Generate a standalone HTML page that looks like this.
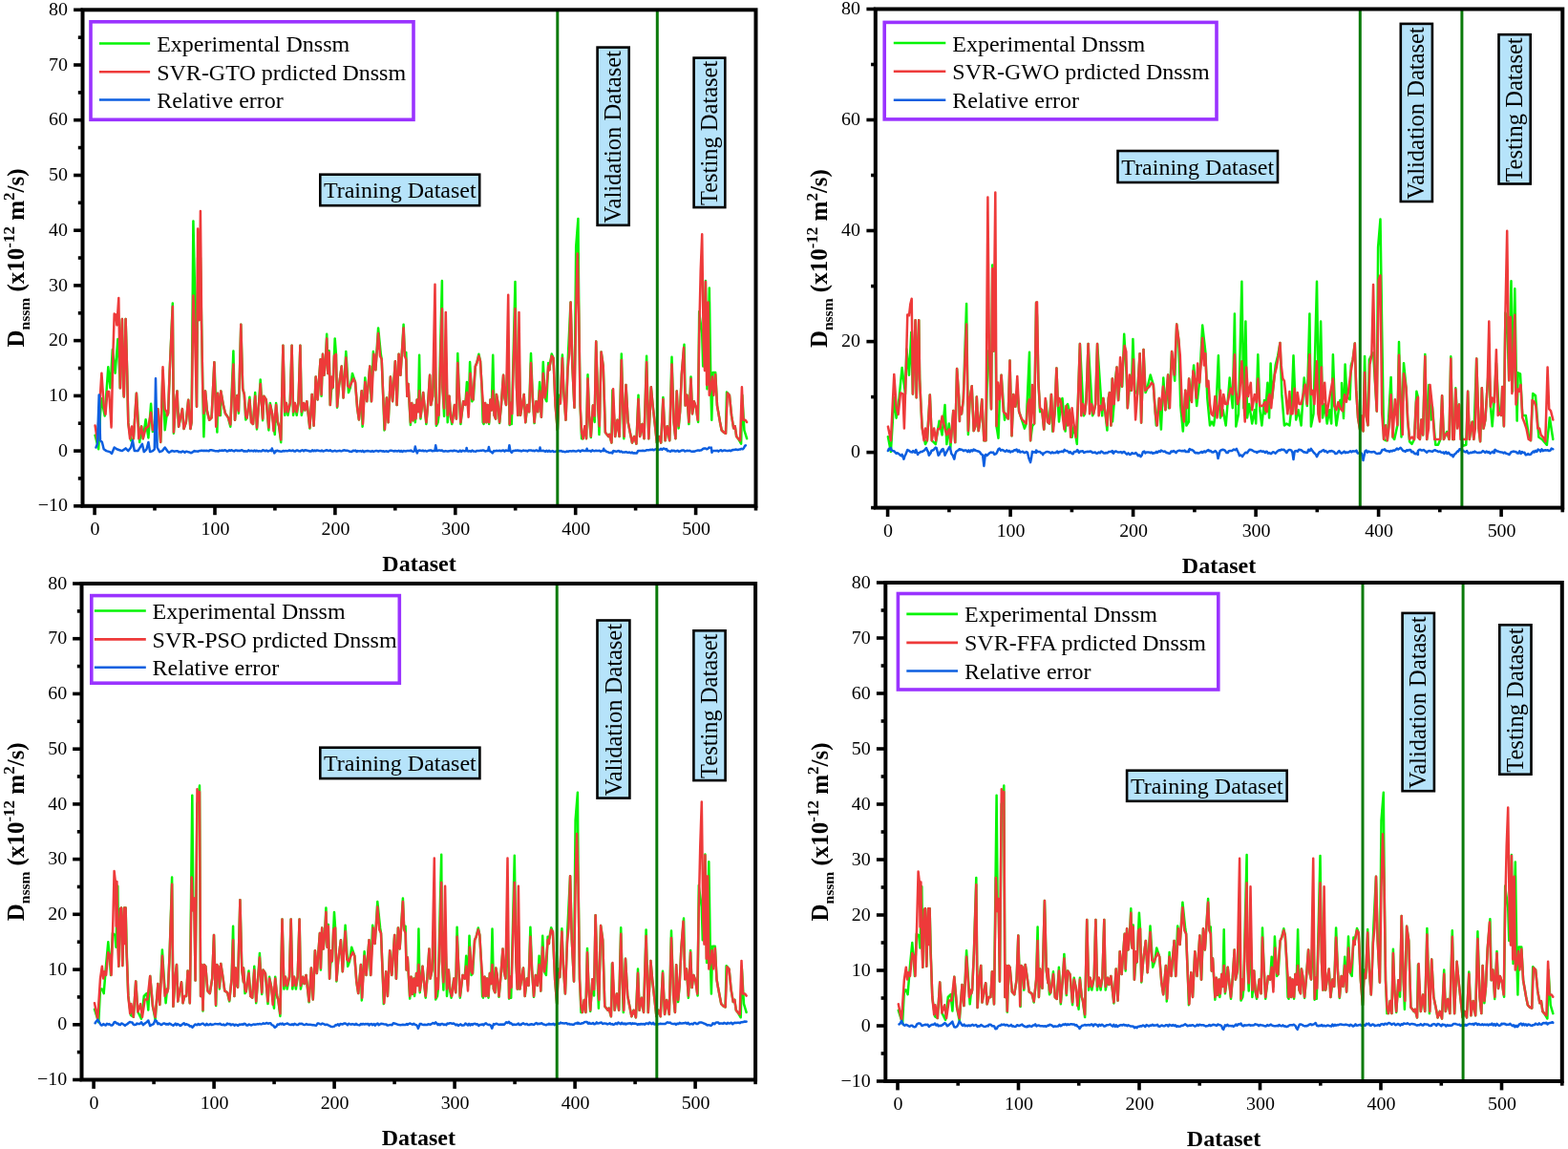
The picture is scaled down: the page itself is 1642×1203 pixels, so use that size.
<!DOCTYPE html>
<html><head><meta charset="utf-8"><title>SVR model comparison</title>
<style>html,body{margin:0;padding:0;background:#fff;}body{width:1642px;height:1203px;overflow:hidden;}svg{display:block;}</style></head><body>
<svg width="1642" height="1203" viewBox="0 0 1642 1203" font-family='"Liberation Serif", "Times New Roman", serif' fill="#000">
<clipPath id="c0"><rect x="86.5" y="10.3" width="705" height="519.5"/></clipPath>
<g clip-path="url(#c0)" fill="none" stroke-linejoin="round" stroke-linecap="round">
<polyline points="99.6,455.7 103.2,470.3 105,433.8 106.4,417.3 109.7,435.5 113.3,384.3 115.5,406.3 117.8,366 120.6,390.7 123.4,355.1 124.3,369.7 125.8,406.3 126.4,369.7 127.9,334.1 129.1,406.3 129.8,415.5 131.6,334.1 133.1,388 134.3,442.9 137.1,461.2 139.8,459.3 142.9,411.8 146.2,463 148.1,446.5 149.8,459.3 152.6,439.2 155.4,458.4 158.1,422.8 159.9,452 163.5,441 165.4,428.3 168.2,463 170.5,388 172.7,450.2 174.9,431.9 175,435.1 176.1,432.8 177.8,386.2 180.8,317.6 181.9,453.7 183.8,423.4 185.5,409.4 187.1,446.7 189,437.4 190.9,428.1 192.5,449 194.8,442.1 197.2,418.8 199.4,449 200.6,442.1 202.4,231.4 204.1,307 206,425.8 207.1,269.8 208.7,335 209.9,269.8 211.1,339.7 212.3,407.1 213.4,457.2 215,409.4 216.9,430.4 219.2,439.8 221.6,437.4 224.4,379.2 227.4,452.5 228.1,411.8 230.9,435.1 231.3,409.4 233.7,423.4 235.9,432.8 239,437.4 241.3,446.7 244.4,367.6 246,439.8 248.3,414.1 249.9,432.8 252.3,339.7 254.2,407.1 255.8,412.9 257.3,439.4 258.6,437.6 261.4,415.7 263.1,442.2 265,444 267.2,411.1 269,449.5 271.4,418.4 272.7,397.4 275.1,440.3 276.3,414.8 278.7,418.4 281.4,450.4 282.9,422 285,433.1 287.8,455 289.1,422 290.9,442.2 292.1,445.8 294.2,463.2 296.4,361.7 298.3,434.8 299.8,422 301.5,434.8 303.8,422 305.6,361.7 307.1,434.8 308.8,422 310.7,434.8 312.5,422 314.4,361.7 315.8,434.8 318,422 319.4,429.4 321.3,420.2 324.4,448.6 326.7,412.9 328.6,445.8 330.7,394.6 332.6,418.4 335.6,376.3 335.8,376.3 336.6,414.8 338,370.8 339.4,392.8 340.9,378.2 342.2,349.8 343.4,391 344.6,367.2 345.8,423.9 347.1,407.4 348.6,405.6 350.7,354.4 351.9,370.8 353.1,426.7 355,403.8 357.7,383.6 359.6,416.5 362.3,368.1 365,411.1 366.9,405.6 369,391 372,400.1 374.2,427.6 375.9,439.4 378.7,409.3 379.6,446.7 382.3,395.5 384.2,420.2 387.3,383.6 388.8,420.2 390.9,368.1 393.3,387.3 396.1,343.4 398.8,370.8 399.7,376.3 401.6,423.9 402.5,450.4 404.9,416.5 406.6,442.2 408.9,394.6 411.1,420.2 413.9,378.2 415.6,423.9 415.7,423.9 417.6,370.8 419.4,392.8 420.9,369 422.6,339.8 423.9,372.7 425.3,369 426.3,414.8 427.5,401.9 429.9,444.9 431.2,422 432.6,440.3 434,423.9 434.8,442.2 436.7,418.4 438,431.2 439.1,371.8 440.4,438.5 441.6,427.6 443.2,411.1 444.9,429.4 446.4,444 448.2,422 450.1,392.8 451.3,423.9 453.2,414.8 455.5,369 456.9,445.8 458.6,442.2 459.5,434.8 462.9,294.1 463.5,405.6 465.1,435.8 466.8,369 468.7,442.2 470.5,414.8 472,436.7 473.2,444 476,423.9 477.9,438.5 479.3,370 480.5,405.6 482.4,444 485.2,420.2 487.3,423.9 488.9,400.1 490.6,431.2 492.1,379.1 494.3,420.2 495.5,418.4 495.7,418.4 497.8,383.6 499.3,380 501.4,370.8 503,378.2 504.5,403.8 505.7,442.2 506.6,444 508.1,422 509.4,442.2 510.6,423.9 512.1,444 513.5,418.4 514.8,429.4 516.2,371.8 517.6,434.8 519.1,438.5 519.9,412.9 521.2,420.2 523.1,443.1 524.9,423.9 527.1,392.8 528.5,416.5 530,423.9 532.2,369 533.7,444.9 534.9,422 535.8,444 539.5,295 541,405.6 542.7,434.8 543.5,369 545,434.8 546.8,423.9 548.7,412.9 550.4,442.2 552.3,423.9 554.1,431.2 556,370 557.7,414.8 559.6,443.1 561.5,420.2 563.3,431.2 565.1,400.1 566.9,436.7 568.8,379.1 570.6,416.5 572.4,420.2 574.2,380 575.5,387.3 575.6,383.5 577.7,370.6 579.5,374.9 581.6,424.6 583.8,450.5 585.3,413.8 586.8,422.4 588.9,371.6 590.3,409.5 592.5,439.8 595,370.6 597.6,316.6 599.4,383.5 601.5,426.8 603.2,258.2 605.4,229 606.2,327.4 607.6,424.6 609.1,459.2 610.6,459.2 612.4,446.2 614,459.2 615.5,392.2 617,435.4 618.8,458.1 620.9,424.6 622.7,441.9 624.2,357.6 626.3,426.8 627.5,454.9 629.6,368.4 631.7,383.5 633.9,452.7 637.2,457 638.2,454.9 640.4,463.5 641.4,408.4 644.2,457 646.5,439.8 648.6,457 650.8,370.6 652.3,426.8 653.3,459.2 655.5,403 655.5,403 657.7,441.9 659.8,452.7 662,463.5 664.1,457 666.4,464.6 668.5,413.8 670.1,457 672.4,444.1 674.5,459.2 677.1,372.7 679.3,459.2 681.8,405.2 683.6,424.6 685.8,444.1 687.9,463.5 690,457 692.2,463.5 694.4,416 696.6,461.3 698.7,446.2 701.2,461.3 703.5,373.8 705.6,441.9 707.4,459.2 708.7,409.5 710.6,448.4 712.1,431.1 713.8,392.2 716.5,360.8 717.7,424.6 719.5,413.8 721.4,444.1 723.5,394.4 725,433.3 726.8,420.3 728.9,426.8 731.1,441.9 732.2,326.3 732.2,327.4 733.7,338.2 735.2,349 736.2,383.5 738.9,293.9 740.5,407.3 742.8,301.5 744.4,407.3 745.3,439.8 746.6,390.1 749.2,390.1 751,424.6 752.5,433.3 754,441.9 755.7,450.5 757.9,452.7 760,453.8 761,410.5 763.9,413.8 766.1,435.4 768.2,448.4 769.7,446.2 771.2,457 773,459.2 776.1,464.6 777.3,413.8 779.4,450.5 782.1,459.2" stroke="#06f406" stroke-width="2.5"/>
<polyline points="99.6,445.6 102,461.2 106.4,390.7 108.7,424.6 110.5,433.8 112.4,410 114.2,410 116.6,447.4 118.4,369.7 119.7,328.6 121.5,329.5 122.4,340.5 124.3,312.1 125.8,406.3 126.4,369.7 127.9,334.1 129.1,406.3 129.8,415.5 131.6,334.1 133.1,388 134.3,442.9 136.1,459.3 138,446.5 139.8,459.3 142.9,411.8 145.3,459.3 148.1,446.5 149.8,459.3 152.6,448.4 155.4,446.5 158.1,431.9 159.9,450.2 162.7,442.9 165.4,428.3 168.2,463 170.5,384.3 172.7,428.3 174.9,431.9 175,435.1 176.1,432.8 177.8,386.2 180.8,321 181.9,452.5 183.8,423.4 185.5,409.4 187.1,446.7 189,437.4 190.9,428.1 192.5,449 194.8,442.1 197.2,418.8 199.4,449 200.6,442.1 202.4,309.4 204.1,351.3 206,425.8 207.1,239.6 208.7,335 209.9,220.9 211.1,339.7 212.3,407.1 213.4,432.8 215,409.4 216.9,430.4 219.2,439.8 221.6,437.4 224.4,379.2 226.2,446.7 228.1,411.8 229.6,435.1 231.3,409.4 233.7,423.4 235.9,432.8 239,437.4 241.3,444.4 244.4,381.6 246,439.8 248.3,414.1 249.9,430.4 252.3,339.7 254.2,407.1 255.8,412.9 257.3,434.8 258.6,437.6 261.4,418.4 263.1,442.2 265,444 267.2,414.8 269,447.7 271.4,418.4 272.7,401.9 275.1,438.5 276.3,414.8 278.7,418.4 281.4,447.7 282.9,423.9 285,433.1 286.5,451.3 289.1,423.9 290.9,442.2 292.1,445.8 294.2,460.5 296.4,361.7 298.3,431.2 299.8,422 301.5,431.2 303.8,422 305.6,361.7 307.1,431.2 308.8,422 310.7,431.2 312.5,422 314.4,361.7 315.8,431.2 318,422 319.4,429.4 321.3,420.2 324.4,447.7 326.7,412.9 328.6,445.8 330.7,394.6 332.6,418.4 335.6,376.3 335.8,376.3 336.6,412.9 338,370.8 339.4,392.8 340.9,378.2 342.2,354.4 343.4,391 344.6,369 345.8,423.9 347.1,394.6 348.6,405.6 350,372.7 351.9,370.8 353.1,425.7 355,403.8 357.7,383.6 359.6,416.5 362.3,374.5 364.1,403.8 366,405.6 368.4,400.1 370.1,396.5 372,400.1 374.2,427.6 375.9,439.4 378.7,409.3 380,444 382.3,400.1 384.2,420.2 387.3,383.6 389.1,420.2 391.5,370.8 393.3,387.3 396.1,348.9 398,372.7 399.7,376.3 401.6,423.9 403,449.5 404.9,416.5 406.6,442.2 408.9,394.6 411.1,420.2 413.9,378.2 415.6,423.9 415.7,420.2 417.6,370.8 419.4,392.8 420.9,369 422.6,343.4 423.9,372.7 425.3,376.3 426.3,414.8 427.5,401.9 429.9,442.2 431.2,422 432.6,440.3 434,423.9 435.5,438.5 436.7,418.4 438,431.2 439.1,409.3 440.4,436.7 441.6,427.6 443.2,411.1 444.9,429.4 446.4,442.2 448.2,422 450.1,392.8 451.3,423.9 453.2,414.8 455.5,297.7 456.9,444 458.1,423.9 459.5,434.8 462.9,323.3 463.5,405.6 465.1,427.6 466.8,327 468.7,434.8 470.5,414.8 472,436.7 473.9,442.2 476,423.9 477.9,438.5 479.3,380 480.5,405.6 482.4,442.2 485.2,420.2 487.3,423.9 488.9,411.1 490.6,436.7 492.5,391 494.3,416.5 495.5,418.4 495.7,411.1 497.8,383.6 499.3,380 501.4,372.7 503,378.2 504.5,403.8 505.7,420.2 506.6,442.2 508.1,422 509.4,442.2 510.6,423.9 512.1,442.2 513.5,418.4 514.8,429.4 516.2,409.3 517.6,434.8 519.1,438.5 519.9,412.9 521.2,420.2 523.1,442.2 524.9,423.9 527.1,392.8 528.5,416.5 530,423.9 532.2,308.7 533.7,444 534.9,422 536.2,433.1 539.5,323.3 541,405.6 542.2,434.8 543.5,327 545,434.8 546.8,423.9 548.7,412.9 550.2,442.2 552.3,423.9 554.1,431.2 556,380 557.7,414.8 559.6,442.2 561.5,420.2 563.3,431.2 565.1,409.3 566.9,436.7 568.8,391 570.6,416.5 572.4,405.6 574.2,383.6 575.5,387.3 575.6,383.5 577.7,372.7 579.5,374.9 581.6,424.6 583.8,450.5 585.3,418.1 586.8,422.4 588.9,374.9 590.3,409.5 592.5,439.8 594.6,385.7 596.1,370.6 597.6,316.6 599.4,383.5 601.5,426.8 603.2,327.4 604.7,265.4 606.2,327.4 607.6,424.6 609.1,452.7 610.6,459.2 612.4,446.2 614,459.2 615.5,396.5 617,435.4 618.8,457 620.9,424.6 622.7,435.4 624.2,357.6 626.3,426.8 627.8,446.2 629.6,368.4 631.7,383.5 633.9,452.7 637.2,457 638.2,454.9 640.4,463.5 642.1,407.3 644.2,457 646.5,439.8 648.6,457 650.8,377.1 652.3,426.8 653.8,457 655.5,403 655.5,403 657.7,441.9 659.8,452.7 662,463.5 664.1,457 666.4,464.6 668.5,418.1 670.1,457 672.4,444.1 674.5,459.2 677.1,379.3 679.3,459.2 681.8,405.2 683.6,424.6 685.8,444.1 687.9,463.5 690,457 692.2,463.5 694.4,418.1 696.6,461.3 698.7,446.2 701.2,461.3 703.5,381.4 705.6,441.9 707.4,459.2 708.7,409.5 710.6,446.2 712.1,431.1 713.8,392.2 716,364.1 717.7,424.6 719.5,413.8 721.4,441.9 723.5,396.5 725,433.3 726.8,420.3 728.9,426.8 730.7,439.8 732.2,349 732.2,349 733.7,284.1 735.2,245.2 736.7,359.8 738,387.9 738.9,294.9 740.1,403 741.6,316.6 742.8,413.8 744.4,407.3 745.9,394.4 747.4,413.8 749.2,392.2 751,424.6 752.5,433.3 754,441.9 755.7,450.5 757.9,452.7 760,453.8 761.8,411.6 763.9,413.8 766.1,435.4 768.2,448.4 769.7,446.2 771.2,457 773,459.2 775.1,461.3 776.9,405.2 778.4,439.8 780.5,439.8 782.1,441.9" stroke="#ee3a3a" stroke-width="2.5"/>
<polyline points="100.5,468.5 102,464.8 103.7,413.6 105,461.2 106.9,463 108.7,470.3 111.4,472.1 115.1,473.1 117,474.9 119.7,468.5 122.4,470.3 125.1,471.2 127.9,472.1 131.6,469.4 134.3,472.1 137.1,468.5 138.9,461.2 140.8,472.1 144.4,472.1 148.9,464.8 150.8,473.1 153.5,470.3 155.4,463 157.1,473.1 159.9,472.1 161.8,470.3 163,396.2 164.6,468.5 167.2,473.1 170,472.1 172.7,468.5 175.9,472.9 177.1,473.8 178.4,473 179.7,472.1 180.9,472.1 182.2,472.7 183.4,472.4 184.7,472.3 186,472.2 187.2,473.2 188.5,473.1 189.7,473.5 191,472.5 192.2,472.8 193.5,473.8 194.8,472.7 196,472.8 197.3,473.3 198.5,473.5 199.8,474.2 201.1,473.8 202.3,472.9 203.6,472.1 204.8,472.5 206.1,472.4 207.4,472.7 208.6,472.1 209.9,472.1 211.1,471.6 212.4,472 213.7,471.8 214.9,472 216.2,471.8 217.4,472.1 218.7,472.3 219.9,471.3 221.2,471.3 222.5,471.5 223.7,471.7 225,472.2 226.2,472.3 227.5,472.2 228.8,472.5 230,471.6 231.3,472 232.5,471.4 233.8,472 235.1,471.3 236.3,471.4 237.6,472.5 238.8,472.3 240.1,471.3 241.3,471.9 242.6,471.2 243.9,472 245.1,472.4 246.4,471.6 247.6,471.4 248.9,472.1 250.2,471.8 251.4,472 252.7,471.2 253.9,471.4 255.2,472.4 256.5,472.2 257.7,472.4 259,472.5 260.2,471.4 261.5,472.3 262.8,471.8 264,472 265.3,472.4 266.5,471.6 267.8,472.4 269,471.7 270.3,472.5 271.6,472.1 272.8,472.4 274.1,472.3 275.3,471.3 276.6,471.6 277.9,472.3 279.1,471.5 280.4,472.4 281.6,472.2 282.9,471.6 284.2,472.1 284.8,469.5 285.4,471.3 286,472.1 286.7,472.5 287.3,474.4 287.9,473.6 288.6,472.1 289.2,472.4 290.4,471.7 291.7,472.3 293,472.4 294.2,472.7 295.5,472.6 296.7,471.9 298,472.4 299.3,471.9 300.5,472.2 301.8,472.1 303,471.4 304.3,472 305.6,471.9 306.8,471.5 308.1,472.4 309.3,472.5 310.6,471.4 311.8,471.6 313.1,472.3 314.4,472.4 315.6,471.6 316.9,471.3 318.1,472.4 319.4,471.3 320.7,471.4 321.9,471.8 323.2,472 324.4,472.5 325.7,472.5 327,471.3 328.2,472.3 329.5,471.6 330.7,472.2 332,471.4 333.2,471.7 334.5,472.1 335.8,472.3 337,471.6 338.3,472.4 339.5,472.2 340.8,471.7 342.1,471.3 343.3,471.7 344.6,472.1 345.8,471.2 347.1,472.2 348.4,472.5 349.6,472.1 350.9,471.8 352.1,472.4 353.4,472.3 354.7,472.1 355.9,471.8 357.2,472.4 358.4,472.1 359.7,471.4 360.9,471.3 362.2,471.8 363.5,471.8 364.7,472 366,472.7 367.2,472.8 368.5,472.9 369.8,471.7 371,472 372.3,471.6 373.5,472.9 374.8,472.1 376.1,472.4 377.3,472.1 378.6,472.7 379.8,471.8 381.1,473.1 382.3,472.4 383.6,472.2 384.9,472 386.1,472.3 387.4,472.4 388.6,472.7 389.9,472.1 391.2,472.8 392.4,472.4 393.7,472 394.9,472.1 396.2,472.7 397.5,472.1 398.7,472 400,472.4 401.2,472.3 402.5,472.7 403.8,472.4 405,472.3 406.3,473 407.5,472.2 408.8,471.7 410,471.8 411.3,472.1 412.6,472.5 413.8,472 415.1,472.2 416.3,472.4 417.6,471.8 418.9,472.8 420.1,471.9 421.4,472.9 422.6,472.1 423.9,472.3 425.2,472.5 426.4,471.9 427.7,472.1 428.9,472 430.2,471.6 431.4,472.4 432.7,472.8 434,472.1 434.8,467.5 435.9,472.1 436.9,474.4 437.7,472.1 439,471.5 440.3,471.8 441.5,472.1 442.8,471.6 444,472.3 445.3,471.8 446.6,472.5 447.8,472.2 449.1,471.7 450.3,471.5 451.6,471.6 452.8,472.3 454.1,472 455.4,472.1 456.2,466.3 457.3,472.1 457.9,472.1 459.1,471.6 460.4,471.6 461.7,471.8 462.9,471.4 464.2,472.4 465.4,472.5 466.7,472.1 468,472.4 469.2,472.5 470.5,472.2 471.7,471.9 473,472.1 474.2,472.3 475.5,471.6 476.8,472.1 478,472.1 479.3,472.7 480.5,472.7 481.8,471.6 483.1,472.7 484.3,471.8 485.6,472 486.8,472.4 488.1,472.1 488.6,468.9 489.4,472.1 490.6,472.6 491.9,472.1 493.1,472.7 494.4,471.6 495.7,472.4 496.9,472.6 498.2,472.7 499.4,471.9 500.7,472.1 501.9,471.9 503.2,471.8 504.5,471.7 505.7,471.4 507,471.8 508.2,472.5 509.5,472.1 511.1,472.1 511.9,468 512.8,472.1 514.5,473.1 515.8,474.4 517.1,472.1 518.3,472.3 519.6,471.8 520.8,472.1 522.1,471.9 523.3,471.7 524.6,472.3 525.9,471.7 527.1,471.5 528.4,472.7 529.6,471.5 530.9,471.8 532.5,472.1 533.4,466.3 534.4,472.1 535.9,473.8 537.2,472.1 538.5,472 539.7,471.6 541,471.7 542.2,471.4 543.5,472.1 544.8,471.8 546,472.5 547.3,471.8 548.5,471.6 549.8,471.9 551,471.8 552.3,472.5 553.6,471.5 554.8,471.4 556.1,471.4 557.3,472 558.6,471.7 559.9,472.3 561.1,471.5 562.4,471.6 563.6,472.3 564.9,472.1 565.5,468.6 566.2,472.1 567.4,472 568.7,471.8 569.9,472.2 571.2,472.8 572.4,471.8 573.7,472.9 575,471.8 576.2,472.8 577.5,472.6 578.7,472 580,472.9 581.3,472.9 582.5,472.4 583.8,472.2 585,472.1 586.3,472.3 587.6,472 588.8,472.7 590.1,472.7 591.3,473.2 592.6,473 593.8,472.5 595.1,472.8 596.4,472.2 597.6,472.3 598.9,472.4 600.1,472 601.4,472.3 602.7,472.6 603.9,472.5 605.2,471.8 606.4,471.7 607.7,472.7 609,471.7 610.2,471.5 611.5,472.1 612.7,472 614,472.1 614.6,469.8 615.2,472.1 616.5,472.1 617.8,471.9 619,472.7 620.3,471.4 621.5,472.1 622.8,472.2 624.1,471.7 625.3,472 626.6,472.1 627.8,471.8 629.1,472.7 630.4,472 631.6,472.1 632.2,469.8 632.9,472.1 634.1,471.8 635.4,473.1 636.7,473.2 637.9,474 639.2,473.9 640.4,473.7 641.3,474.4 642.3,472.1 642.9,472.2 644.2,472.5 645.5,472.8 646.7,472.3 648,472 649.2,473.2 650.5,472.5 651.8,473.6 653,473.5 654.3,473.6 655.5,473.1 656.8,473.7 658.1,473.8 659.3,473.5 660.6,474.3 661.8,473.6 663.1,474.6 664.3,474.2 665.6,474.6 666.9,474.4 668.1,472.1 669.4,472.1 670.6,472.1 671.9,472 673.2,471.7 674.4,472.1 675.7,472 676.9,471.3 678.2,471.2 679.5,471.3 680.7,470.8 682,471 683.2,470.6 684.5,471.3 685.8,470.6 687,470.3 688.3,470.2 689.5,470.9 690.8,470.8 692,469.9 693.3,470.8 694.6,469.6 695.8,469.7 697.1,470.6 698,470.1 699,472.1 699.6,471.8 700.9,472.4 702.1,472.7 703.4,471.6 704.6,472.2 705.9,471.7 707.2,472.6 708.4,472.2 709.7,471.8 710.9,472.8 712.2,472.5 713.4,471.8 714.7,471.5 716,471.4 717.2,472.6 718.5,472.1 719.7,471.7 721,472.1 722.3,471.8 723.5,472.5 724.8,472.7 726,472.6 727.3,472.7 728.6,472.1 729.8,471.8 731.1,471.4 732.3,471.8 733.6,471.4 734.8,471.2 736.1,470 737.4,469.5 738.6,469.4 739.9,470.2 741.1,470 742.4,468.5 743.7,468.9 744.8,468.6 745.5,473.8 746.2,472.1 747.4,472.1 748.7,472 750,472.1 751.2,471.8 752.5,472.6 753.7,471.6 755,471.3 756.2,472.3 757.5,471.8 758.8,471.4 760,471.8 761.3,472.1 762.5,472.1 763.8,471.6 765.1,472.2 766.3,471.5 767.6,471 768.8,471 770.1,470.6 771.4,470.8 772.6,471 773.9,470.6 775.1,470.6 776.4,469.8 777.7,470.3 778.9,469.1 780.2,466.7 780.9,466.3" stroke="#0d5fe0" stroke-width="2.5"/>
</g>
<line x1="583.8" y1="10.3" x2="583.8" y2="529.8" stroke="#0a7a0a" stroke-width="3"/>
<line x1="688.3" y1="10.3" x2="688.3" y2="529.8" stroke="#0a7a0a" stroke-width="3"/>
<rect x="86.5" y="10.3" width="705" height="519.5" fill="none" stroke="#000" stroke-width="4.0"/>
<line x1="77.1" y1="529.8" x2="86.5" y2="529.8" stroke="#000" stroke-width="3.6"/>
<text transform="translate(70.9 535.4) scale(1.05 1)" text-anchor="end" font-size="19">−10</text>
<line x1="81.8" y1="500.9" x2="86.5" y2="500.9" stroke="#000" stroke-width="3.6"/>
<line x1="77.1" y1="472.1" x2="86.5" y2="472.1" stroke="#000" stroke-width="3.6"/>
<text transform="translate(70.9 477.7) scale(1.05 1)" text-anchor="end" font-size="19">0</text>
<line x1="81.8" y1="443.2" x2="86.5" y2="443.2" stroke="#000" stroke-width="3.6"/>
<line x1="77.1" y1="414.4" x2="86.5" y2="414.4" stroke="#000" stroke-width="3.6"/>
<text transform="translate(70.9 420) scale(1.05 1)" text-anchor="end" font-size="19">10</text>
<line x1="81.8" y1="385.5" x2="86.5" y2="385.5" stroke="#000" stroke-width="3.6"/>
<line x1="77.1" y1="356.6" x2="86.5" y2="356.6" stroke="#000" stroke-width="3.6"/>
<text transform="translate(70.9 362.2) scale(1.05 1)" text-anchor="end" font-size="19">20</text>
<line x1="81.8" y1="327.8" x2="86.5" y2="327.8" stroke="#000" stroke-width="3.6"/>
<line x1="77.1" y1="298.9" x2="86.5" y2="298.9" stroke="#000" stroke-width="3.6"/>
<text transform="translate(70.9 304.5) scale(1.05 1)" text-anchor="end" font-size="19">30</text>
<line x1="81.8" y1="270" x2="86.5" y2="270" stroke="#000" stroke-width="3.6"/>
<line x1="77.1" y1="241.2" x2="86.5" y2="241.2" stroke="#000" stroke-width="3.6"/>
<text transform="translate(70.9 246.8) scale(1.05 1)" text-anchor="end" font-size="19">40</text>
<line x1="81.8" y1="212.3" x2="86.5" y2="212.3" stroke="#000" stroke-width="3.6"/>
<line x1="77.1" y1="183.5" x2="86.5" y2="183.5" stroke="#000" stroke-width="3.6"/>
<text transform="translate(70.9 189.1) scale(1.05 1)" text-anchor="end" font-size="19">50</text>
<line x1="81.8" y1="154.6" x2="86.5" y2="154.6" stroke="#000" stroke-width="3.6"/>
<line x1="77.1" y1="125.7" x2="86.5" y2="125.7" stroke="#000" stroke-width="3.6"/>
<text transform="translate(70.9 131.3) scale(1.05 1)" text-anchor="end" font-size="19">60</text>
<line x1="81.8" y1="96.9" x2="86.5" y2="96.9" stroke="#000" stroke-width="3.6"/>
<line x1="77.1" y1="68" x2="86.5" y2="68" stroke="#000" stroke-width="3.6"/>
<text transform="translate(70.9 73.6) scale(1.05 1)" text-anchor="end" font-size="19">70</text>
<line x1="81.8" y1="39.2" x2="86.5" y2="39.2" stroke="#000" stroke-width="3.6"/>
<line x1="77.1" y1="10.3" x2="86.5" y2="10.3" stroke="#000" stroke-width="3.6"/>
<text transform="translate(70.9 15.9) scale(1.05 1)" text-anchor="end" font-size="19">80</text>
<line x1="99.1" y1="529.8" x2="99.1" y2="539.2" stroke="#000" stroke-width="3.6"/>
<text transform="translate(99.6 559.8) scale(1.05 1)" text-anchor="middle" font-size="19">0</text>
<line x1="162" y1="529.8" x2="162" y2="534.5" stroke="#000" stroke-width="3.6"/>
<line x1="225" y1="529.8" x2="225" y2="539.2" stroke="#000" stroke-width="3.6"/>
<text transform="translate(225.5 559.8) scale(1.05 1)" text-anchor="middle" font-size="19">100</text>
<line x1="287.9" y1="529.8" x2="287.9" y2="534.5" stroke="#000" stroke-width="3.6"/>
<line x1="350.9" y1="529.8" x2="350.9" y2="539.2" stroke="#000" stroke-width="3.6"/>
<text transform="translate(351.4 559.8) scale(1.05 1)" text-anchor="middle" font-size="19">200</text>
<line x1="413.8" y1="529.8" x2="413.8" y2="534.5" stroke="#000" stroke-width="3.6"/>
<line x1="476.8" y1="529.8" x2="476.8" y2="539.2" stroke="#000" stroke-width="3.6"/>
<text transform="translate(477.3 559.8) scale(1.05 1)" text-anchor="middle" font-size="19">300</text>
<line x1="539.7" y1="529.8" x2="539.7" y2="534.5" stroke="#000" stroke-width="3.6"/>
<line x1="602.7" y1="529.8" x2="602.7" y2="539.2" stroke="#000" stroke-width="3.6"/>
<text transform="translate(603.2 559.8) scale(1.05 1)" text-anchor="middle" font-size="19">400</text>
<line x1="665.6" y1="529.8" x2="665.6" y2="534.5" stroke="#000" stroke-width="3.6"/>
<line x1="728.6" y1="529.8" x2="728.6" y2="539.2" stroke="#000" stroke-width="3.6"/>
<text transform="translate(729.1 559.8) scale(1.05 1)" text-anchor="middle" font-size="19">500</text>
<line x1="791.5" y1="529.8" x2="791.5" y2="534.5" stroke="#000" stroke-width="3.6"/>
<text x="439" y="598" text-anchor="middle" font-size="24" font-weight="bold">Dataset</text>
<text transform="translate(24.7 270) rotate(-90)" text-anchor="middle" font-size="25" font-weight="bold">D<tspan font-size="15.5" dy="6.5">nssm</tspan><tspan dy="-6.5"> (x10</tspan><tspan font-size="17" dy="-10">-12</tspan><tspan dy="10"> m</tspan><tspan font-size="17" dy="-10">2</tspan><tspan dy="10">/s)</tspan></text>
<rect x="95" y="22.8" width="338" height="102.5" fill="#fff" stroke="#9a33ff" stroke-width="3.6"/>
<line x1="103.9" y1="45.5" x2="157.1" y2="45.5" stroke="#06f406" stroke-width="2.6"/>
<text x="164.2" y="54" font-size="24">Experimental Dnssm</text>
<line x1="103.9" y1="75.3" x2="157.1" y2="75.3" stroke="#ee3a3a" stroke-width="2.6"/>
<text x="164.2" y="83.8" font-size="24">SVR-GTO prdicted Dnssm</text>
<line x1="103.9" y1="104.5" x2="157.1" y2="104.5" stroke="#0d5fe0" stroke-width="2.6"/>
<text x="164.2" y="113" font-size="24">Relative error</text>
<rect x="335.3" y="182.7" width="166.9" height="32.5" fill="#b6e3fa" stroke="#000" stroke-width="2.6"/>
<text x="418.8" y="207" text-anchor="middle" font-size="24">Training Dataset</text>
<rect x="625.6" y="49.6" width="33.1" height="186.2" fill="#b6e3fa" stroke="#000" stroke-width="2.6"/>
<text transform="translate(650.2 143.3) rotate(-90)" text-anchor="middle" font-size="24.5">Validation Dataset</text>
<rect x="726.6" y="60.6" width="32.7" height="156.5" fill="#b6e3fa" stroke="#000" stroke-width="2.6"/>
<text transform="translate(750.8 139.4) rotate(-90)" text-anchor="middle" font-size="24.5">Testing Dataset</text>
<clipPath id="c1"><rect x="916.8" y="9.5" width="719.5" height="522.1"/></clipPath>
<g clip-path="url(#c1)" fill="none" stroke-linejoin="round" stroke-linecap="round">
<polyline points="929.9,457.3 932.9,473 936.3,416.3 938.6,437.7 941.6,416.3 944.6,385 948,412.4 949.4,365.5 952,392.8 954.3,347.9 955.9,412.4 957.3,369.4 958.6,335.2 959.7,416.3 961,369.4 962.2,335.2 963.1,396.7 964.1,418.2 965.6,447.5 969,465.1 970.9,461.2 973.8,413.4 975.8,461.2 979.8,465.1 982.1,449.5 983.6,440.7 986.6,455.4 989.5,424.1 991.4,465.1 993.8,443.6 995.3,469 998.3,430 1000.2,463.1 1002.1,386 1004.2,416.3 1004.9,441 1005.1,426 1007,433.4 1008.8,418.2 1012.1,318.1 1013.9,455 1015.6,418.2 1017.7,404.2 1019.7,451.1 1021.5,446.1 1022.8,415.6 1024.7,451.1 1026.5,438.4 1028.3,418.2 1030.4,461.3 1032.4,461.3 1034.4,367.5 1035.9,367.5 1038,428.3 1039.2,277.5 1040.5,367.5 1042.3,316.8 1043.5,446.1 1045.5,458.7 1046.8,418.2 1048.6,392.8 1052,439.7 1053.1,433.4 1055.7,438.4 1057.5,377.6 1059.5,456.2 1061.3,413.1 1063.3,425.8 1065.8,413.1 1067.1,430.8 1069.7,438.4 1072.9,448.6 1074.7,443.5 1078,368.8 1079.1,461.3 1081,446.1 1083.1,443.5 1085.1,316.8 1086,331.5 1087.4,400.7 1089.1,431.2 1091.2,429.2 1093.2,449.6 1095.1,419.1 1097.6,442.4 1098.9,443.5 1100.9,412.9 1102.3,451.6 1104.4,433.3 1106.4,385.4 1107.9,425.1 1109,441.5 1111.1,421.1 1112.5,417 1115.6,451.6 1116.6,425.1 1118,423.1 1119.7,429.2 1122.6,457.8 1124.7,445.5 1127.8,464.9 1128.8,423.1 1130.9,360 1134.8,435.3 1135.9,433.3 1137.5,419.1 1139.6,360 1144.1,435.3 1145.1,433.3 1147.2,423.1 1149.1,360 1154.2,435.3 1155.3,417 1157.3,431.2 1159.4,450.6 1160.8,417 1161.9,410.9 1163.4,445.5 1164.8,396.6 1165,441.5 1166.6,423.1 1168.1,396.6 1169.5,384.4 1171.1,419.1 1173.1,396.6 1175.2,404.8 1177.2,349.8 1179.7,392.5 1180.8,427.2 1182.4,408.8 1184.9,408.8 1186.4,354.9 1188.4,408.8 1191.1,412.9 1193.6,370.2 1195.1,442.4 1197.5,366.1 1199.6,410.9 1201.3,406.8 1204.7,392.5 1207.8,402.8 1210.8,445.5 1213.9,417 1215.9,449.6 1218.3,395.6 1220.4,429.2 1223.1,392.5 1224,427.2 1227.1,368.1 1230.2,398.7 1232.2,339.6 1234.3,355.9 1236.3,425.1 1238.8,451.6 1241.3,408.8 1242.4,445.5 1244.9,441.5 1245.1,396.6 1247,419.1 1250.1,382.4 1253.2,425.1 1256.2,398.7 1259.2,340.6 1262.3,368.1 1264.3,417 1267,445.5 1269,441.5 1271,445.5 1273.5,427.2 1275.9,372.2 1278,437.4 1280.7,429.2 1283.7,445.5 1287.7,395.6 1290.8,427.2 1292.9,328.4 1294.3,446.6 1297,433.3 1300.4,294.8 1302.4,427.2 1304.4,336.6 1306.1,437.4 1308.2,423.1 1311.2,443.5 1313.8,429.2 1315.2,443.5 1317.3,371.2 1319.3,429.2 1321.4,445.5 1324,419.1 1325,433.3 1327.4,400.7 1329.1,437.4 1330.6,380.4 1332.2,417 1335.7,382.4 1338.2,372.2 1340.5,359 1342.3,412.9 1344.9,445.5 1347.3,443.5 1350.4,445.5 1352.5,427.2 1354.5,372.2 1357.2,439.4 1359.7,429.2 1362.6,445.5 1365.7,395.6 1368.8,425.1 1371.4,328.4 1372.9,446.6 1375.5,433.3 1379,294.8 1381,429.2 1383.1,336.6 1385.1,437.4 1387.2,423.1 1389.7,443.5 1392.2,429.2 1394.2,443.5 1395.9,371.2 1398,429.2 1399.4,445.5 1403.4,419.1 1405,429.2 1405,401.1 1407,437.9 1408.6,381.5 1410.4,415.8 1413.6,418.2 1414.8,382.7 1416.7,376.5 1418.8,359.4 1420.2,408.4 1422.1,437.9 1424.2,450.2 1425.8,435.4 1427.5,451.4 1429.1,372.9 1430.7,435.4 1432.5,445.2 1433.9,376.5 1436.4,371.7 1438.1,369.2 1441.8,430.5 1443.1,258.8 1445.5,229.4 1447.2,347.1 1449.1,460 1451.2,461.2 1452.8,461.2 1456.6,394.9 1458.5,457.5 1460.2,460 1463.4,445.2 1465,358.1 1467.5,457.5 1470,380.2 1472.5,406 1474.2,440.3 1476.1,462.4 1478.5,464.8 1481,460 1483.4,409.7 1484.9,415.8 1484.9,448.6 1486.9,460 1488.4,439.5 1490.1,455.4 1492.3,370.9 1494.2,460 1496.4,402.9 1498.7,439.5 1499.9,425.7 1503.3,465.8 1506,465.8 1508.3,460 1510.1,414.3 1511.9,460 1515.1,452 1517.5,460 1519.3,373.2 1521.2,460 1522.7,460 1524.3,406.3 1526.6,446.3 1528,423.5 1531.8,466.9 1535.3,465.8 1537.1,409.7 1538.8,460 1540.3,448.6 1541.7,441.7 1543.3,460 1546.2,375.4 1548.5,448.6 1550.1,462.3 1551.8,406.3 1553.6,448.6 1555.4,439.5 1557.7,402.9 1559.3,380 1560.9,425.7 1562.7,446.3 1565,414.3 1566.9,380 1569.1,421.1 1570.3,432.6 1571.9,434.9 1573.2,405.1 1574.9,446.3 1576.4,327.5 1578.2,334.3 1580.2,398.3 1582.5,294.3 1584,409.7 1586.3,302.3 1588.6,440.6 1589.7,390.3 1592,391.4 1594.3,434.9 1597.8,434.9 1601.1,457.8 1603,461.2 1605.2,412 1608,414.3 1611.4,457.8 1614.8,460 1619.9,465.8 1622.8,437.2 1626.3,460" stroke="#06f406" stroke-width="2.5"/>
<polyline points="929.9,446.6 932.9,461.2 936.3,391.9 938.6,426 940.6,433.9 943,411.4 945.5,412.4 946.9,448.5 948.8,387 950.3,329.4 952,330.3 953.3,318.6 954.7,312.7 955.9,412.4 957.3,369.4 958.6,335.2 959.7,416.3 961,369.4 962.2,335.2 963.1,396.7 964.1,418.2 965.6,447.5 967.6,461.2 969,448.5 970.9,461.2 973.8,413.4 975.8,461.2 978.1,448.5 980.1,461.2 982.1,449.5 984.6,448.5 986.6,435.8 989.5,448.5 991.4,455.4 993.8,449.5 995.7,463.1 998.3,430 1000.2,463.1 1002.1,386 1004.2,416.3 1004.9,441 1005.1,426 1007,433.4 1008.8,418.2 1012.1,339.6 1013.9,451.1 1015.6,418.2 1017.7,404.2 1019.7,451.1 1021.5,446.1 1022.8,415.6 1024.7,451.1 1026.5,438.4 1028.3,418.2 1030.4,461.3 1032.4,461.3 1034.4,206.5 1035.9,367.5 1038,428.3 1039.2,281.3 1040.5,367.5 1042.3,201.4 1043.5,446.1 1045,400.4 1046.8,418.2 1048.6,392.8 1050.7,430.8 1053.1,433.4 1055.7,438.4 1057.5,377.6 1059.5,456.2 1061.3,413.1 1063.3,425.8 1065.3,394.1 1067.1,430.8 1069.7,438.4 1072.1,441 1074.7,443.5 1076.5,423.2 1078,418.2 1079.1,461.3 1081,403 1083.1,443.5 1085.1,316.8 1086,316.2 1087.4,400.7 1089.1,427.2 1091.2,429.2 1093.2,449.6 1094.7,417 1096.8,441.5 1098.9,443.5 1100.9,412.9 1103,451.6 1104.4,433.3 1106.4,385.4 1107.9,425.1 1109.4,417 1111.1,421.1 1112.5,433.3 1114.5,449.6 1116.6,425.1 1118,445.5 1119.7,429.2 1121.2,457.8 1122.6,427.2 1124.7,445.5 1126.7,457.8 1128.8,423.1 1130.9,360 1132.3,435.3 1133.9,423.1 1135.9,433.3 1137.5,419.1 1139.6,360 1141,433.3 1143.1,423.1 1145.1,433.3 1147.2,423.1 1149.1,360 1150.6,435.3 1152.2,425.1 1153.8,429.2 1155.3,417 1157.3,431.2 1159.4,445.5 1160.8,417 1161.9,410.9 1163.4,445.5 1164.8,396.6 1165,396.6 1166.6,423.1 1168.1,400.7 1169.5,384.4 1171.1,419.1 1173.1,374.2 1174.8,404.8 1176.2,376.2 1177.6,362 1179.3,368.1 1180.8,427.2 1182.9,392.5 1184.9,408.8 1187,376.2 1189.1,439.4 1191.1,412.9 1193.6,370.2 1195.1,442.4 1197.5,366.1 1199.2,408.8 1201.3,406.8 1203.7,404.8 1205.8,400.7 1207.8,402.8 1209.9,433.3 1211.8,445.5 1213.9,417 1215.5,429.2 1218,404.8 1220.4,429.2 1223.1,392.5 1225,427.2 1227.1,368.1 1229.8,392.5 1232.2,339.6 1234.3,355.9 1235.8,372.2 1237.9,429.2 1239.9,441.5 1241.3,408.8 1243.4,427.2 1244.9,398.7 1245.1,396.6 1246.6,412.9 1248,421.1 1249.4,388.5 1251.1,396.6 1252.8,417 1254.2,380.4 1256.2,400.7 1257.7,380.4 1259.2,353.9 1260.9,382.4 1262.3,370.2 1263.7,404.8 1265.4,398.7 1267,423.1 1268.5,433.3 1270.5,435.3 1272.4,414.9 1274.5,437.4 1276.5,423.1 1278,408.8 1279.6,435.3 1281.3,412.9 1283.2,423.1 1285.3,423.1 1287.3,412.9 1288.8,406.8 1290.8,412.9 1292.9,371.2 1294.3,408.8 1296,423.1 1298,414.9 1300.4,378.3 1302,412.9 1303.7,441.5 1305.1,384.4 1307.1,414.9 1309.8,400.7 1311.2,429.2 1313.8,412.9 1315.9,421.1 1317.3,396.6 1319.3,425.1 1322,425.1 1325,421.1 1325,429.2 1326.7,431.2 1328.1,417 1329.5,412.9 1331.2,427.2 1332.7,410.9 1334.8,392.5 1336.8,384.4 1338.9,372.2 1340.5,359 1341.7,382.4 1343.4,396.6 1344.9,398.7 1346.4,412.9 1348.4,433.3 1350.4,409.9 1351.8,433.3 1353.5,433.3 1355.6,406.8 1357.2,433.3 1358.7,410.9 1360.6,423.1 1362.6,423.1 1364.7,412.9 1366.7,402.8 1368.8,423.1 1371.4,371.2 1372.9,412.9 1374.8,408.8 1376.4,423.1 1379,378.3 1380.4,433.3 1382,441.5 1383.7,384.4 1385.1,423.1 1387.2,400.7 1389.1,435.3 1391.2,423.1 1393.2,410.9 1395.9,396.6 1397.3,425.1 1399.4,429.2 1401.4,421.1 1403.4,427.2 1405,429.2 1405,428.1 1406.2,430.5 1408,413.3 1409.9,420.7 1411.8,410.9 1414.3,391.3 1416.7,376.5 1418.8,359.4 1420.2,408.4 1422.1,437.9 1424.2,450.2 1425.8,435.4 1427.5,451.4 1429.1,390.1 1430.7,435.4 1432.5,445.2 1434.5,381.5 1436.4,371.7 1438.1,298.1 1439.9,396.2 1441.8,430.5 1443.7,293.2 1445.5,288.3 1447.2,433 1449.1,460 1451.2,445.2 1452.8,461.2 1454.5,447.7 1456.6,413.3 1458.5,457.5 1460.9,418.2 1463.4,445.2 1465,371.7 1466.8,420.7 1468.8,455 1470,391.3 1472.5,406 1474.2,440.3 1476.1,460 1478.5,457.5 1481,460 1483,420.7 1484.9,415.8 1484.9,457.8 1486.9,460 1488.4,439.5 1490.1,455.4 1492.3,373.2 1494.2,460 1496,448.6 1497.5,402.9 1499.9,425.7 1502.2,460 1504.5,460 1506.7,460 1508.3,460 1510.1,414.3 1511.9,460 1513.6,455.4 1515.9,453.2 1517.5,460 1519.3,375.4 1521.2,460 1522.7,460 1524.3,407.5 1526.2,448.6 1528,423.5 1529.5,460 1531.8,460 1534.2,460 1535.7,460 1537.1,409.7 1538.8,460 1540.3,448.6 1541.7,441.7 1543.3,460 1544.9,448.6 1546.2,375.4 1548.5,448.6 1550.1,462.3 1551.8,406.3 1553.6,448.6 1555.4,439.5 1557.7,402.9 1559.3,336.6 1560.9,425.7 1562.7,416.6 1565,421.1 1566.9,366.3 1568.7,434.9 1570.3,432.6 1571.9,434.9 1573.2,405.1 1574.9,446.3 1576.4,329.7 1578.2,241.7 1580.2,398.3 1581.7,332 1583.4,412 1585.2,366.3 1586.3,329.7 1587.5,423.5 1589.3,407.5 1590.8,409.7 1592.5,402.9 1594.3,437.2 1596.1,441.7 1598.4,448.6 1600.7,460 1603,461.2 1604.6,418.9 1606.9,421.1 1608.4,425.7 1610.3,448.6 1612.1,448.6 1613.7,455.4 1616,457.8 1618.3,462.3 1620.6,384.6 1622.2,428.1 1624,430.3 1626.3,439.5" stroke="#ee3a3a" stroke-width="2.5"/>
<polyline points="929.9,472 930.9,469.8 932.2,470.8 932.9,469 933.5,471 934.8,472 936.1,472.2 937.7,473.9 938.6,474.7 939.9,474.3 940.6,474.9 941.2,475.1 943,476.8 943.8,477.2 944.6,475.9 946.5,480.7 947.6,477.2 948.4,475.9 950.3,471 951.5,471.6 953.3,473 954.1,473.3 955.3,473.5 956.2,472 958.2,473.9 959.2,471 960.5,474.5 961.1,475.9 961.8,474.2 963.1,473.9 964.1,473 965.6,473.1 967,472 968.2,471.3 970,469 970.8,471.1 972,473.4 972.8,476.8 974.6,474.2 975.4,472 977.7,471 978.5,469.9 979.8,468.5 980.7,469 982.6,476.8 983.6,475.9 984.9,472.5 985.5,473 986.2,470.8 987.5,470 988.8,473.6 989.5,476.8 991.4,473 992.6,470.9 994.4,468 995.2,469.7 996.3,474.9 997.7,476.8 999.3,480.7 1000.3,475.6 1001.2,473 1002.9,471.8 1004.2,470.6 1004.9,470.2 1005.1,471 1006.7,470.6 1008,471.3 1009.3,472.1 1010.1,471.4 1011.9,471.4 1013.2,473.1 1014.4,471.4 1015.1,472.7 1015.7,473.1 1017,471.2 1018.3,472.4 1019.6,470.5 1020.2,471.4 1020.9,471.1 1022.2,471.9 1023.4,472.2 1025.2,472.7 1026,473.2 1027.3,475.2 1029.1,476.5 1030.4,487.9 1031.7,476.5 1032.4,475.9 1033.7,476.9 1035.4,475.2 1036.3,474.3 1037.6,473.5 1039.2,473.9 1040.1,473.6 1041.4,475.8 1043,475.2 1044,473.8 1045.5,470.2 1046.6,469.5 1047.9,471.7 1049.1,471 1050.7,471.4 1051.7,472.4 1053,472.7 1054.3,471.3 1055.7,472.7 1056.8,471.9 1058.1,473.5 1059.4,472.4 1060.7,472.7 1062,471.2 1063.3,471.4 1064.6,470.5 1065.8,473.1 1067.1,471.4 1068.4,473.5 1069.7,473.1 1071,472.7 1072.3,473.9 1073.5,474.1 1074.8,473.1 1076,473.9 1077.4,479.7 1079.1,484.1 1080,479.6 1081,472.7 1082.5,473.6 1083.8,473.3 1085,474 1085.1,471.4 1086.4,473 1087.7,472.9 1089.1,473 1090.3,474.3 1091.5,474.7 1092.2,476.1 1092.8,474.7 1094.1,474 1095.4,473.2 1096.7,472.9 1098,473.2 1099.2,473.6 1100.5,474.4 1101.8,473.4 1103.1,474.3 1104.4,474 1105.7,473.9 1107,472.5 1108.2,474.2 1109.4,473 1110.8,473.1 1112.1,472.5 1113.4,473.2 1114.7,470.9 1115.6,472 1117.2,472 1118.5,472.8 1119.8,474.1 1120.7,473 1122.6,475 1123.7,475.2 1124.7,473 1126.2,473 1127.5,472.4 1128.2,471 1128.8,471.8 1129.8,474 1131.4,472.5 1132.6,472.5 1133.9,472.3 1135.2,474 1136.5,473.3 1137.9,473 1139.1,472.8 1140.4,472.9 1141.6,472.5 1142.9,472.8 1144.2,474.1 1145.5,473.8 1146.1,473.6 1146.8,473.5 1148.1,474.7 1149.4,474.5 1150.6,473.5 1151.9,474.2 1153.2,472.5 1154.2,473 1155.8,474.4 1157.1,474.5 1158.3,474 1159.6,474.3 1160.9,473.1 1162.2,472.9 1163.5,472.8 1164.8,472 1165,474 1166.1,474.6 1167.3,472.8 1168.6,472.5 1169.9,473.1 1171.1,473.6 1172.5,473.4 1173.8,473.1 1175,474.3 1176.3,473.3 1177.2,473 1178.9,474.7 1180.2,475.6 1181.5,474.4 1183.3,476.1 1184,475.8 1185.3,474.3 1186.6,474.7 1187.9,475 1189.4,474 1190.5,475.2 1191.8,477.1 1193,476.4 1194.6,478.1 1195.6,476.8 1196.9,473.2 1197.5,473 1198.2,472.6 1199.5,474.4 1200.7,473.4 1202,473.5 1203.3,473.5 1204.6,474.2 1205.8,473.6 1207.2,474.7 1208.5,474.3 1209.7,474.2 1211,472.8 1211.8,474 1213.6,472.3 1214.9,473 1215.9,471.6 1217.4,472.4 1218.7,472.8 1220,472.5 1221.3,473.9 1222.1,474 1223.9,474.7 1225.2,474.7 1226.4,472.5 1227.7,473 1229,472 1230.2,473 1231.6,474.1 1232.9,472.3 1234.2,471.8 1235.4,471.7 1236.7,472.2 1238.3,472 1239.3,472.3 1240.6,471.6 1241.9,473.1 1243.1,472.7 1244.9,473 1245.1,471 1245.7,470.1 1247,470.9 1248.3,471.1 1249.6,471.8 1250.9,473.6 1252.1,474.3 1253.2,474 1254.7,474.6 1256,474.2 1257.3,473.5 1258.6,473 1259.2,474 1259.8,473.5 1261.1,472.3 1262.4,473.5 1263.7,472.1 1265.4,471 1266.3,472.2 1267.6,471.9 1268.8,473.2 1270.1,473.6 1271.5,473 1272.7,472.1 1274.5,474 1275.5,480.1 1276.5,476.5 1277.6,472 1279.1,471.2 1280.4,470.8 1281.7,471 1283,471.9 1284.3,473.9 1285.7,474 1286.8,472.3 1288.1,472.1 1289.8,472 1290.7,471.6 1292,470.6 1293.3,471.2 1294.9,469.9 1295.8,472.1 1297.1,474.5 1298,477.1 1299.7,476.4 1301,478.1 1302.2,476.2 1304,474 1304.8,473.8 1306.1,474.2 1307.4,472.1 1308.7,470.7 1310.2,471 1311.2,471.4 1312.5,472.2 1313.8,473 1315.1,472.9 1316.3,474 1317.7,472.8 1318.9,472.7 1320.4,472 1321.5,472.9 1322.8,472.4 1324.1,473.2 1325,474 1325,473 1326.7,472.7 1327.9,474.7 1329.2,474.1 1330.5,475.1 1331.2,475 1331.8,474.4 1333.1,473.2 1334.4,473.6 1335.7,474.7 1337.2,473 1338.2,472.1 1339.5,471.3 1340.8,471.4 1342.1,470.6 1343.4,471 1344.6,470.8 1345.9,472.3 1347.3,474 1348.5,472 1349.8,471 1351.1,471 1352.4,471.7 1353.5,474 1354.5,481.1 1355.6,473 1356.2,472.2 1357.5,472.1 1358.8,472.7 1360.1,470.7 1361.6,471 1362.6,471.2 1363.9,472.3 1365.2,473.4 1366.5,473.2 1367.8,474 1369.1,473.7 1370.3,470.7 1371.6,472 1372.9,469.9 1374.2,471.7 1375.9,474 1376.8,474.8 1378.1,476.3 1379,478.1 1380.6,474.9 1382,473 1383.2,473 1384.5,471.8 1386.1,471 1387,472.7 1388.3,472 1390.1,474 1390.9,473 1392.2,472.3 1393.5,472.6 1394.2,472 1396,472.6 1397.3,473.4 1398.4,475 1399.9,474.7 1401.2,473.2 1402.3,472 1403.7,473.9 1405,474.6 1405,474 1406.3,473.8 1407.6,472.6 1408.9,474.1 1410.2,473.5 1411.5,473.8 1412.4,473.4 1414,472.2 1415.3,473.4 1416.6,472.3 1417.9,472.5 1419.7,472.2 1420.4,471.6 1421.7,474.6 1423.4,474.6 1424.3,475.2 1425.8,474.6 1426.9,478.4 1427.5,482 1428.2,478.5 1429.6,472.2 1430.7,471.5 1432,473.6 1433.3,472.5 1434.6,473.3 1435.9,473.2 1436.9,473.4 1438.4,472.9 1439.7,473.5 1441,474.6 1442.3,475 1443.6,474.6 1444.2,474.6 1444.9,474.8 1446.1,473.8 1447.4,471 1449.1,471 1450,470.4 1451.3,471.8 1452.6,472.2 1454,472.2 1455.1,473.1 1456.4,471.9 1457.7,472.4 1459,471.5 1460.3,471.7 1461.4,471 1462.8,469.6 1464.1,470.6 1465.4,469.8 1466.7,468.8 1467.5,469.8 1469.3,472 1470.6,472.4 1471.2,472.2 1471.8,472.8 1473.1,471.3 1474.4,471.7 1476.1,471 1477,470.9 1478.3,473.3 1479.6,472.8 1481,474.6 1482.1,475.3 1483.4,474.6 1484.9,476 1484.9,472.2 1486,471 1487.3,470.7 1488.5,471.6 1489.6,471.4 1491.1,471.1 1492.4,472.3 1494.2,473.8 1495,472.6 1496.3,472.1 1497.5,472.3 1498.7,472.6 1500.1,472.8 1501.4,471.6 1502.7,471.2 1503.3,471.4 1504,472 1505.2,472.2 1506.5,473.1 1507.8,472.6 1509.1,473.6 1510.4,473.9 1511.7,473.5 1512.4,474.9 1514.2,473.2 1515.5,475 1516.9,473.8 1518.1,475.3 1519.4,476.5 1520.7,476.3 1521.6,478.3 1523.2,475.6 1524.5,474.8 1526.2,472.6 1527.1,472.7 1528.4,470.3 1529.5,470.3 1530.9,471.8 1532.2,471.7 1533,472.6 1534.8,473.4 1536.1,472 1537.4,474.4 1538.7,474.5 1539.8,473.8 1541.2,474.1 1542.5,473.3 1543.8,473.4 1544.4,472.6 1545.1,473.2 1546.4,473.7 1547.6,474.1 1549.1,473.8 1550.2,473.9 1551.5,473.5 1552.8,472.1 1553.6,472.6 1555.4,473.9 1556.6,472.5 1558.2,473.8 1559.2,473.1 1560.5,474.7 1561.8,473.7 1563.1,472.9 1564.3,474.2 1565,473.8 1565,471.4 1565.6,470.9 1566.9,471.7 1568.2,472.6 1569.1,472.6 1570.8,473.3 1572.1,473.4 1573.7,473.8 1574.6,474.5 1575.9,473.6 1577.2,474.7 1578.5,475.1 1579.8,475.7 1580.5,476 1582.3,473.5 1583.6,472.9 1585.2,472.6 1586.2,473 1587.5,473 1588.8,474.4 1590,474.5 1591.3,472.4 1592,473.8 1592.6,474.9 1593.9,473.1 1595.2,474.1 1596.5,473.8 1597.8,476.3 1599,476 1600.3,475.1 1601.1,476 1602.9,475.7 1604.2,474.1 1605.7,472.6 1606.7,473.4 1608,471.8 1609.3,473 1610.6,470.6 1611.9,471.2 1612.5,471.4 1613.2,472.6 1614.5,470.4 1615.7,472.1 1617,471.5 1618.3,471.3 1619.5,471.4 1620.9,471.2 1622.2,472.1 1623.5,471.6 1624.7,469.5 1626.3,470.3" stroke="#0d5fe0" stroke-width="2.5"/>
</g>
<line x1="1424.3" y1="9.5" x2="1424.3" y2="531.6" stroke="#0a7a0a" stroke-width="3"/>
<line x1="1530.9" y1="9.5" x2="1530.9" y2="531.6" stroke="#0a7a0a" stroke-width="3"/>
<rect x="916.8" y="9.5" width="719.5" height="522.1" fill="none" stroke="#000" stroke-width="4.0"/>
<line x1="912.1" y1="531.6" x2="916.8" y2="531.6" stroke="#000" stroke-width="3.6"/>
<line x1="907.4" y1="473.6" x2="916.8" y2="473.6" stroke="#000" stroke-width="3.6"/>
<text transform="translate(900.9 479.2) scale(1.05 1)" text-anchor="end" font-size="19">0</text>
<line x1="912.1" y1="415.6" x2="916.8" y2="415.6" stroke="#000" stroke-width="3.6"/>
<line x1="907.4" y1="357.6" x2="916.8" y2="357.6" stroke="#000" stroke-width="3.6"/>
<text transform="translate(900.9 363.2) scale(1.05 1)" text-anchor="end" font-size="19">20</text>
<line x1="912.1" y1="299.6" x2="916.8" y2="299.6" stroke="#000" stroke-width="3.6"/>
<line x1="907.4" y1="241.5" x2="916.8" y2="241.5" stroke="#000" stroke-width="3.6"/>
<text transform="translate(900.9 247.1) scale(1.05 1)" text-anchor="end" font-size="19">40</text>
<line x1="912.1" y1="183.5" x2="916.8" y2="183.5" stroke="#000" stroke-width="3.6"/>
<line x1="907.4" y1="125.5" x2="916.8" y2="125.5" stroke="#000" stroke-width="3.6"/>
<text transform="translate(900.9 131.1) scale(1.05 1)" text-anchor="end" font-size="19">60</text>
<line x1="912.1" y1="67.5" x2="916.8" y2="67.5" stroke="#000" stroke-width="3.6"/>
<line x1="907.4" y1="9.5" x2="916.8" y2="9.5" stroke="#000" stroke-width="3.6"/>
<text transform="translate(900.9 15.1) scale(1.05 1)" text-anchor="end" font-size="19">80</text>
<line x1="929.6" y1="531.6" x2="929.6" y2="541" stroke="#000" stroke-width="3.6"/>
<text transform="translate(930.1 561.6) scale(1.05 1)" text-anchor="middle" font-size="19">0</text>
<line x1="993.9" y1="531.6" x2="993.9" y2="536.3" stroke="#000" stroke-width="3.6"/>
<line x1="1058.1" y1="531.6" x2="1058.1" y2="541" stroke="#000" stroke-width="3.6"/>
<text transform="translate(1058.6 561.6) scale(1.05 1)" text-anchor="middle" font-size="19">100</text>
<line x1="1122.4" y1="531.6" x2="1122.4" y2="536.3" stroke="#000" stroke-width="3.6"/>
<line x1="1186.6" y1="531.6" x2="1186.6" y2="541" stroke="#000" stroke-width="3.6"/>
<text transform="translate(1187.1 561.6) scale(1.05 1)" text-anchor="middle" font-size="19">200</text>
<line x1="1250.9" y1="531.6" x2="1250.9" y2="536.3" stroke="#000" stroke-width="3.6"/>
<line x1="1315.1" y1="531.6" x2="1315.1" y2="541" stroke="#000" stroke-width="3.6"/>
<text transform="translate(1315.6 561.6) scale(1.05 1)" text-anchor="middle" font-size="19">300</text>
<line x1="1379.3" y1="531.6" x2="1379.3" y2="536.3" stroke="#000" stroke-width="3.6"/>
<line x1="1443.6" y1="531.6" x2="1443.6" y2="541" stroke="#000" stroke-width="3.6"/>
<text transform="translate(1444.1 561.6) scale(1.05 1)" text-anchor="middle" font-size="19">400</text>
<line x1="1507.8" y1="531.6" x2="1507.8" y2="536.3" stroke="#000" stroke-width="3.6"/>
<line x1="1572.1" y1="531.6" x2="1572.1" y2="541" stroke="#000" stroke-width="3.6"/>
<text transform="translate(1572.6 561.6) scale(1.05 1)" text-anchor="middle" font-size="19">500</text>
<line x1="1636.3" y1="531.6" x2="1636.3" y2="536.3" stroke="#000" stroke-width="3.6"/>
<text x="1276.5" y="599.8" text-anchor="middle" font-size="24" font-weight="bold">Dataset</text>
<text transform="translate(865.6 270.6) rotate(-90)" text-anchor="middle" font-size="25" font-weight="bold">D<tspan font-size="15.5" dy="6.5">nssm</tspan><tspan dy="-6.5"> (x10</tspan><tspan font-size="17" dy="-10">-12</tspan><tspan dy="10"> m</tspan><tspan font-size="17" dy="-10">2</tspan><tspan dy="10">/s)</tspan></text>
<rect x="926.2" y="23.4" width="347.8" height="101.5" fill="#fff" stroke="#9a33ff" stroke-width="3.6"/>
<line x1="935.8" y1="45" x2="990.3" y2="45" stroke="#06f406" stroke-width="2.6"/>
<text x="997.3" y="53.5" font-size="24">Experimental Dnssm</text>
<line x1="935.8" y1="74.7" x2="990.3" y2="74.7" stroke="#ee3a3a" stroke-width="2.6"/>
<text x="997.3" y="83.2" font-size="24">SVR-GWO prdicted Dnssm</text>
<line x1="935.8" y1="104.7" x2="990.3" y2="104.7" stroke="#0d5fe0" stroke-width="2.6"/>
<text x="997.3" y="113.2" font-size="24">Relative error</text>
<rect x="1170.5" y="158" width="167.5" height="33" fill="#b6e3fa" stroke="#000" stroke-width="2.6"/>
<text x="1254.2" y="182.8" text-anchor="middle" font-size="24">Training Dataset</text>
<rect x="1466.8" y="24.9" width="33.1" height="186.1" fill="#b6e3fa" stroke="#000" stroke-width="2.6"/>
<text transform="translate(1491.4 118.5) rotate(-90)" text-anchor="middle" font-size="24.5">Validation Dataset</text>
<rect x="1569.5" y="36.2" width="33.2" height="156.3" fill="#b6e3fa" stroke="#000" stroke-width="2.6"/>
<text transform="translate(1594.2 115) rotate(-90)" text-anchor="middle" font-size="24.5">Testing Dataset</text>
<clipPath id="c2"><rect x="85.5" y="611" width="705.6" height="519.5"/></clipPath>
<g clip-path="url(#c2)" fill="none" stroke-linejoin="round" stroke-linecap="round">
<polyline points="99,1056.6 103.3,1070.3 105,1035.5 106.9,1035.5 108.7,1040.1 111.1,1010 113.3,986.2 115.1,1006.3 116,1020.9 117.9,977 120.3,978.9 121.5,991.7 123.3,927.7 124.3,1011.8 125.2,969.7 126.1,951.4 127,950.5 128.3,1010.9 130.1,950.5 131.6,950.5 133,1006.3 134.3,1042.9 137,1063 139.8,1064.8 142.2,1027.4 144.3,1059.3 148,1066.7 150.8,1042.9 153.5,1040.1 155.3,1057.5 157.2,1021.9 160,1053.8 162.6,1067.6 165.4,1030.1 167.3,1052 169.9,994.4 171.8,1024.6 173.6,1050.2 175,1035.5 175,1039.2 176,1035.5 177.7,997.2 180.1,918.5 181.4,1053.8 183.3,1024.6 185,1010 186.3,1048.4 188.2,1037.4 190,1028.3 191.5,1050.2 193.2,1042.9 195.1,1042.9 196.6,1016.4 198.8,1050.2 201.3,832.8 202.4,953.3 203.3,940.5 204.6,1026.4 206.5,841.7 207.6,838.1 209,822.5 210.1,1042.9 211.2,1010 212.5,1058.4 213.8,1010 215.3,1011.8 217.4,1037.4 219.8,1040.1 222.2,1024.6 224,978.9 226.2,1052.9 227.1,1010 228.4,1011.8 229.9,1035.5 231.3,1009.1 233.6,1024.6 235.3,1037.4 238.1,1039.2 240.2,1048.4 242.6,1024.6 244.1,969.7 245.4,1042.9 246.7,1013.6 248.2,1031.9 249,1033.8 251.4,942.3 253.3,1015.5 255,1028.3 255,1013.6 256.5,1040.1 257.7,1038.3 260.5,1016.4 262.3,1042.9 264.2,1044.7 266.3,1011.8 268.2,1050.2 270.6,1019.1 271.9,998.1 274.2,1041 275.5,1015.5 277.9,1019.1 280.5,1051.1 282.1,1022.7 284.2,1033.8 287,1055.7 288.2,1022.7 290.1,1042.9 291.3,1046.5 293.4,1063.9 295.5,962.4 297.4,1035.5 298.9,1022.7 300.7,1035.5 303,1022.7 304.7,962.4 306.3,1035.5 308,1022.7 309.9,1035.5 311.7,1022.7 313.6,962.4 314.9,1035.5 317.2,1022.7 318.6,1030.1 320.5,1020.9 323.6,1049.3 325.9,1013.6 327.8,1046.5 329.9,995.3 331.8,1019.1 334.9,977 335,977 335.9,1015.5 337.2,971.5 338.6,993.5 340.1,978.9 341.4,950.5 342.7,991.7 343.8,967.9 345.1,1024.6 346.3,1008.1 347.8,1006.3 350,955.1 351.1,971.5 352.4,1027.4 354.3,1004.5 356.9,984.3 358.8,1017.2 361.6,968.8 364.2,1011.8 366.1,1006.3 368.2,991.7 371.3,1000.8 373.4,1028.3 375.2,1040.1 377.9,1010 378.8,1047.4 381.6,996.2 383.5,1020.9 386.5,984.3 388,1020.9 390.2,968.8 392.6,988 395.3,944.1 398.1,971.5 399,977 400.9,1024.6 401.8,1051.1 404.2,1017.2 405.9,1042.9 408.2,995.3 410.3,1020.9 413.2,978.9 414.9,1024.6 415,1024.6 416.9,971.5 418.6,993.5 420.2,969.7 421.9,940.5 423.2,973.4 424.6,969.7 425.6,1015.5 426.8,1002.6 429.2,1045.6 430.5,1022.7 431.9,1041 433.3,1024.6 434.1,1042.9 436,1019.1 437.3,1031.9 438.4,972.5 439.7,1039.2 440.9,1028.3 442.5,1011.8 444.2,1030.1 445.7,1044.7 447.5,1022.7 449.4,993.5 450.6,1024.6 452.5,1015.5 454.8,969.7 456.2,1046.5 458,1042.9 458.8,1035.5 462.2,894.8 462.9,1006.3 464.4,1036.5 466.1,969.7 468,1042.9 469.8,1015.5 471.3,1037.4 472.6,1044.7 475.3,1024.6 477.2,1039.2 478.6,970.7 479.9,1006.3 481.8,1044.7 484.5,1020.9 486.7,1024.6 488.2,1000.8 490,1031.9 491.5,979.8 493.6,1020.9 494.9,1019.1 495,1019.1 497.1,984.3 498.7,980.7 500.8,971.5 502.3,978.9 503.8,1004.5 505.1,1042.9 506,1044.7 507.5,1022.7 508.7,1042.9 510,1024.6 511.5,1044.7 512.9,1019.1 514.2,1030.1 515.5,972.5 516.9,1035.5 518.4,1039.2 519.3,1013.6 520.6,1020.9 522.5,1043.8 524.2,1024.6 526.5,993.5 527.9,1017.2 529.4,1024.6 531.5,969.7 533.1,1045.6 534.3,1022.7 535.2,1044.7 538.8,895.7 540.4,1006.3 542.1,1035.5 542.9,969.7 544.4,1035.5 546.2,1024.6 548,1013.6 549.8,1042.9 551.7,1024.6 553.5,1031.9 555.4,970.7 557.1,1015.5 559,1043.8 560.9,1020.9 562.7,1031.9 564.6,1000.8 566.3,1037.4 568.2,979.8 570,1017.2 571.9,1020.9 573.6,980.7 574.9,988 575,984.2 577.2,971.3 578.9,975.6 581.1,1025.3 583.2,1051.2 584.7,1014.5 586.2,1023.1 588.4,972.3 589.8,1010.2 591.9,1040.5 594.4,971.3 597.1,917.3 598.8,984.2 601,1027.5 602.6,858.9 604.9,829.7 605.6,928.1 607,1025.3 608.5,1059.9 610,1059.9 611.8,1046.9 613.4,1059.9 615,992.9 616.5,1036.1 618.2,1058.8 620.4,1025.3 622.1,1042.6 623.6,958.3 625.8,1027.5 626.9,1055.6 629.1,969.1 631.2,984.2 633.3,1053.4 636.6,1057.7 637.6,1055.6 639.9,1064.2 640.9,1009.1 643.7,1057.7 645.9,1040.5 648.1,1057.7 650.2,971.3 651.7,1027.5 652.8,1059.9 655,1003.7 655,1003.7 657.2,1042.6 659.3,1053.4 661.4,1064.2 663.6,1057.7 665.9,1065.3 668,1014.5 669.6,1057.7 671.9,1044.8 674,1059.9 676.6,973.4 678.8,1059.9 681.4,1005.9 683.1,1025.3 685.3,1044.8 687.4,1064.2 689.5,1057.7 691.7,1064.2 694,1016.7 696.1,1062 698.2,1046.9 700.8,1062 703,974.5 705.2,1042.6 706.9,1059.9 708.2,1010.2 710.1,1049.1 711.6,1031.8 713.4,992.9 716,961.5 717.3,1025.3 719,1014.5 720.9,1044.8 723.1,995.1 724.6,1034 726.3,1021 728.5,1027.5 730.6,1042.6 731.8,927 731.8,928.1 733.3,938.9 734.8,949.7 735.8,984.2 738.4,894.6 740.1,1008 742.3,902.2 744,1008 744.9,1040.5 746.1,990.8 748.8,990.8 750.5,1025.3 752,1034 753.6,1042.6 755.3,1051.2 757.5,1053.4 759.6,1054.5 760.6,1011.2 763.5,1014.5 765.6,1036.1 767.8,1049.1 769.3,1046.9 770.8,1057.7 772.6,1059.9 775.7,1065.3 776.9,1014.5 779,1051.2 781.6,1059.9" stroke="#06f406" stroke-width="2.5"/>
<polyline points="99,1050.2 102.3,1066.7 105,1024.6 106.9,1011.8 108.2,1024.6 109.3,1017.2 111.1,1020.9 113.3,997.2 115.1,1000.8 116.6,1020.9 118.4,962.4 119.6,912.1 120.9,924 121.7,969.7 122.4,923.1 123.3,988 124.3,1011.8 125.2,969.7 126.1,951.4 127,950.5 127.7,988 128.3,1010.9 129.2,969.7 130.1,950.5 130.9,988 131.6,950.5 132.5,997.2 133,1006.3 134.3,1042.9 136.2,1061.2 137.4,1051.1 139.8,1064.8 142.2,1027.4 144.3,1059.3 147.1,1051.1 149,1064.8 151.7,1046.5 154.4,1046.5 157.2,1021.9 160,1053.8 162.6,1064.8 165.4,1030.1 167.3,1052 169.9,1000.8 172.7,1042.9 175,1035.5 175,1039.2 176,1035.5 177.7,997.2 180.1,925.8 181.4,1053.8 183.3,1024.6 185,1010 186.3,1048.4 188.2,1037.4 190,1028.3 191.5,1050.2 193.2,1042.9 195.1,1042.9 196.6,1016.4 198.8,1050.2 200.7,918.5 202.1,953.3 203.3,940.5 204.6,1026.4 206.5,826.2 207.6,838.1 209,828.9 210.1,1042.9 211.2,1010 212.5,1057.5 213.8,1010 215.3,1011.8 217.4,1037.4 219.8,1040.1 222.2,1024.6 224,978.9 225.9,1052 227.1,1010 228.4,1011.8 229.9,1033.8 231.3,1009.1 233.6,1024.6 235.3,1037.4 238.1,1039.2 240.2,1047.4 242.6,1024.6 244.1,984.3 245.4,1042.9 246.7,1013.6 249,1033.8 251.4,942.3 253.3,1015.5 255,1028.3 255,1013.6 256.5,1035.5 257.7,1038.3 260.5,1019.1 262.3,1042.9 264.2,1044.7 266.3,1015.5 268.2,1048.4 270.6,1019.1 271.9,1002.6 274.2,1039.2 275.5,1015.5 277.9,1019.1 280.5,1048.4 282.1,1024.6 284.2,1033.8 285.7,1052 288.2,1024.6 290.1,1042.9 291.3,1046.5 293.4,1061.2 295.5,962.4 297.4,1031.9 298.9,1022.7 300.7,1031.9 303,1022.7 304.7,962.4 306.3,1031.9 308,1022.7 309.9,1031.9 311.7,1022.7 313.6,962.4 314.9,1031.9 317.2,1022.7 318.6,1030.1 320.5,1020.9 323.6,1048.4 325.9,1013.6 327.8,1046.5 329.9,995.3 331.8,1019.1 334.9,977 335,977 335.9,1013.6 337.2,971.5 338.6,993.5 340.1,978.9 341.4,955.1 342.7,991.7 343.8,969.7 345.1,1024.6 346.3,995.3 347.8,1006.3 349.2,973.4 351.1,971.5 352.4,1026.4 354.3,1004.5 356.9,984.3 358.8,1017.2 361.6,975.2 363.3,1004.5 365.2,1006.3 367.6,1000.8 369.4,997.2 371.3,1000.8 373.4,1028.3 375.2,1040.1 377.9,1010 379.2,1044.7 381.6,1000.8 383.5,1020.9 386.5,984.3 388.4,1020.9 390.8,971.5 392.6,988 395.3,949.6 397.2,973.4 399,977 400.9,1024.6 402.3,1050.2 404.2,1017.2 405.9,1042.9 408.2,995.3 410.3,1020.9 413.2,978.9 414.9,1024.6 415,1020.9 416.9,971.5 418.6,993.5 420.2,969.7 421.9,944.1 423.2,973.4 424.6,977 425.6,1015.5 426.8,1002.6 429.2,1042.9 430.5,1022.7 431.9,1041 433.3,1024.6 434.8,1039.2 436,1019.1 437.3,1031.9 438.4,1010 439.7,1037.4 440.9,1028.3 442.5,1011.8 444.2,1030.1 445.7,1042.9 447.5,1022.7 449.4,993.5 450.6,1024.6 452.5,1015.5 454.8,898.4 456.2,1044.7 457.5,1024.6 458.8,1035.5 462.2,924 462.9,1006.3 464.4,1028.3 466.1,927.7 468,1035.5 469.8,1015.5 471.3,1037.4 473.2,1042.9 475.3,1024.6 477.2,1039.2 478.6,980.7 479.9,1006.3 481.8,1042.9 484.5,1020.9 486.7,1024.6 488.2,1011.8 490,1037.4 491.9,991.7 493.6,1017.2 494.9,1019.1 495,1011.8 497.1,984.3 498.7,980.7 500.8,973.4 502.3,978.9 503.8,1004.5 505.1,1020.9 506,1042.9 507.5,1022.7 508.7,1042.9 510,1024.6 511.5,1042.9 512.9,1019.1 514.2,1030.1 515.5,1010 516.9,1035.5 518.4,1039.2 519.3,1013.6 520.6,1020.9 522.5,1042.9 524.2,1024.6 526.5,993.5 527.9,1017.2 529.4,1024.6 531.5,898.4 533.1,1044.7 534.3,1022.7 535.6,1033.8 538.8,924 540.4,1006.3 541.6,1035.5 542.9,927.7 544.4,1035.5 546.2,1024.6 548,1013.6 549.6,1042.9 551.7,1024.6 553.5,1031.9 555.4,980.7 557.1,1015.5 559,1042.9 560.9,1020.9 562.7,1031.9 564.6,1010 566.3,1037.4 568.2,991.7 570,1017.2 571.9,1006.3 573.6,984.3 574.9,988 575,984.2 577.2,973.4 578.9,975.6 581.1,1025.3 583.2,1051.2 584.7,1018.8 586.2,1023.1 588.4,975.6 589.8,1010.2 591.9,1040.5 594,986.4 595.5,971.3 597.1,917.3 598.8,984.2 601,1027.5 602.6,928.1 604.1,872.9 605.6,928.1 607,1025.3 608.5,1053.4 610,1059.9 611.8,1046.9 613.4,1059.9 615,997.2 616.5,1036.1 618.2,1057.7 620.4,1025.3 622.1,1036.1 623.6,958.3 625.8,1027.5 627.3,1046.9 629.1,969.1 631.2,984.2 633.3,1053.4 636.6,1057.7 637.6,1055.6 639.9,1064.2 641.5,1008 643.7,1057.7 645.9,1040.5 648.1,1057.7 650.2,977.8 651.7,1027.5 653.3,1057.7 655,1003.7 655,1003.7 657.2,1042.6 659.3,1053.4 661.4,1064.2 663.6,1057.7 665.9,1065.3 668,1018.8 669.6,1057.7 671.9,1044.8 674,1059.9 676.6,980 678.8,1059.9 681.4,1005.9 683.1,1025.3 685.3,1044.8 687.4,1064.2 689.5,1057.7 691.7,1064.2 694,1018.8 696.1,1062 698.2,1046.9 700.8,1062 703,982.1 705.2,1042.6 706.9,1059.9 708.2,1010.2 710.1,1046.9 711.6,1031.8 713.4,992.9 715.5,964.8 717.3,1025.3 719,1014.5 720.9,1042.6 723.1,997.2 724.6,1034 726.3,1021 728.5,1027.5 730.2,1040.5 731.8,949.7 731.8,949.7 733.3,884.8 734.8,839.5 736.3,960.5 737.5,988.6 738.4,895.6 739.7,1003.7 741.2,917.3 742.3,1014.5 744,1008 745.5,995.1 747,1014.5 748.8,992.9 750.5,1025.3 752,1034 753.6,1042.6 755.3,1051.2 757.5,1053.4 759.6,1054.5 761.4,1012.3 763.5,1014.5 765.6,1036.1 767.8,1049.1 769.3,1046.9 770.8,1057.7 772.6,1059.9 774.7,1062 776.5,1005.9 778,1040.5 780.1,1040.5 781.6,1042.6" stroke="#ee3a3a" stroke-width="2.5"/>
<polyline points="99.6,1071.2 100.6,1069.7 102.3,1067.6 103.1,1068.8 104.4,1070.9 105,1072.1 105.7,1073.2 106.9,1073.5 108.2,1072.1 109.7,1073.1 110.7,1073.5 112,1071.7 113.3,1072.5 114.5,1072.1 115.7,1073.2 117,1073.6 118.3,1072.7 119.6,1070.3 120.8,1070.1 122,1071.4 123.3,1071.5 124.3,1072.5 125.8,1073.1 127.1,1071.5 128,1071.8 129.6,1072.8 130.9,1073.8 131.6,1073.1 133.4,1072.2 134.6,1071 135.9,1070.1 137,1070.3 138.4,1070.5 139.7,1072.5 140.7,1073.1 142.2,1072.8 143.5,1071.5 144.3,1072.1 146,1072.1 147.2,1071.5 148,1070.3 149.9,1073.1 151,1072.3 152.3,1071 153.5,1070.3 155.3,1068.5 156.1,1070.9 157.2,1074 158.6,1073.1 159.8,1072.5 160.8,1072.1 162.6,1068.1 163.6,1068.7 165.4,1072.1 166.1,1071.2 167.4,1072 168.7,1073.1 169.9,1072.5 171.2,1071.5 172.4,1071.6 173.7,1072.4 175,1072.5 175,1072.1 176.2,1072.7 177.5,1071.5 178.6,1072.1 180,1073 181.3,1073.7 182.3,1073.1 183.8,1071.7 185,1073.2 185.9,1072.1 187.6,1073 188.8,1074 189.6,1073.6 191.3,1072.1 192.6,1071.3 193.2,1071.8 193.9,1073 195.1,1072.2 196.9,1073.1 197.6,1073.1 198.9,1074.6 200.2,1074.2 201.5,1075.8 202.7,1074.4 204.3,1072.5 205.2,1072.8 206.5,1073.2 207.7,1072 209,1073 210.2,1072.5 211.6,1071.8 212.8,1071.7 214,1073 215.3,1073.4 216.5,1071.9 217.8,1073.2 218.9,1073.1 220.3,1072.1 221.6,1073 222.8,1072.7 224.1,1072.4 225.4,1072 226.2,1072.1 227.9,1072.2 229.1,1072.3 230.4,1071.7 231.7,1072.8 232.9,1073.1 233.6,1073.1 234.2,1072.5 235.4,1073.4 236.7,1073.1 238,1071.5 239.2,1072.3 240.9,1072.1 241.7,1073.3 243,1072.6 244.3,1072.4 245.5,1073.7 246.8,1072.7 248.2,1073.1 249.3,1073.9 250.6,1072.6 251.8,1072.8 253.1,1072.3 254.3,1072.8 255,1072.5 255,1072.1 255.6,1071.8 256.9,1071.9 258.1,1073.5 259.4,1073.6 260.6,1072.5 262.3,1073.1 263.2,1073.5 264.4,1072.9 265.7,1072.4 266.9,1072.8 268.2,1072.6 269.6,1072.1 270.7,1072.4 272,1071.9 273.2,1072.4 274.5,1072.1 275.8,1071.3 276.9,1071.8 278.3,1071.5 279.5,1071 280.8,1071.8 282.4,1071.2 283.3,1071.2 284.6,1073.1 286.1,1073.6 287.1,1075 287.9,1075.8 289.6,1074.5 290.6,1072.5 292.1,1072.8 293.4,1071.7 294.7,1072.4 295.9,1071.5 297.2,1072.9 298.9,1072.1 299.7,1071.9 301,1071.4 302.2,1072.4 303.5,1072.8 304.7,1073.1 306,1072.3 307.3,1073.1 308.5,1071.8 309.9,1072.5 311,1073.1 312.3,1072.9 313.6,1071.7 314.8,1072 316.1,1071.7 317.3,1072.6 318.6,1073 319.9,1072.6 320.9,1072.1 322.4,1072.8 323.6,1072.8 324.9,1072.8 326.2,1073 327.4,1073.2 328.2,1073.1 329.9,1073.5 331.2,1073.7 332.5,1071.6 333.7,1071.5 334.9,1072.1 335,1072.1 336.2,1072.5 337.5,1071.6 338.8,1071.9 340.5,1073.1 341.3,1072.7 342.5,1072.7 344.2,1073.6 345.1,1073.9 346.3,1074.7 347.8,1074.9 348.8,1074.9 350.1,1074.6 351.5,1073.1 352.6,1073.4 353.9,1072.3 355.1,1073.7 356.4,1071.9 357.7,1072.2 358.8,1072.5 360.2,1071.6 361.4,1071.5 362.7,1072.1 364,1073.2 365.2,1071.7 366.1,1072.1 367.7,1072.7 369,1072.1 370.3,1072.5 371.5,1072.9 372.8,1071.9 374,1072.7 375.2,1073.1 376.6,1073.4 377.8,1072 379.1,1072.6 380.3,1071.9 381.6,1072.6 382.6,1072.1 384.1,1072.3 385.4,1071.9 386.6,1073.4 387.9,1072.2 389.2,1072.1 389.9,1073.1 391.7,1072.1 392.9,1073.6 394.2,1072.2 395.5,1071.6 396.7,1073.1 398,1072.4 399,1071.8 400.5,1071.9 401.8,1072.3 403,1072.4 404.5,1072.5 405.5,1073.5 406.8,1073.4 408.1,1073.1 409.3,1073.1 410.6,1073.2 411.8,1071.3 413.1,1071.5 414.9,1072.1 415,1072.1 415.6,1072.3 416.9,1072.8 418.1,1073.1 419.4,1073.2 420.5,1073.1 421.9,1072.7 423.2,1072.9 424.4,1073.1 426,1072.1 427,1072.9 428.2,1071.9 429.5,1071.5 430.7,1072.1 432,1072.7 433.3,1071.8 434.5,1072.7 436,1073.1 437,1074.4 437.9,1076.7 439.7,1072.1 440.8,1072 442.1,1072.6 443.3,1073 444.6,1072.8 446.1,1073.1 447.1,1073.1 448.4,1072.3 449.6,1072.5 450.9,1072.8 451.5,1072.1 452.2,1071.8 453.4,1071 454.7,1071.8 456.2,1070.3 457.2,1071.5 458.8,1073.1 459.7,1072.1 461,1073.2 462.2,1072 463.5,1072.1 464.8,1073.1 466.1,1072.5 467.3,1073.2 468.5,1071.6 469.8,1071.8 471.1,1071.2 472.3,1071.3 473.6,1071.8 474.8,1071.5 476.1,1072.1 477.4,1073.3 478.6,1072.5 479.9,1073.9 480.9,1073.1 482.4,1072.3 483.7,1073.6 484.9,1073.4 486.2,1073.2 487.4,1071.5 488.2,1072.1 490,1073.4 491.2,1071.9 492.5,1073.5 493.7,1072.2 494.9,1073.1 495,1072.5 496.3,1071.9 497.5,1071.7 498.8,1072.6 500,1072.3 501.3,1073.9 502.3,1073.1 503.8,1072.8 505.1,1072.3 506.3,1073.4 507.6,1071.9 508.9,1071.3 509.6,1072.1 511.4,1073 512.6,1072.8 513.3,1073.1 513.9,1073.6 515.2,1076.7 516.9,1072.1 517.7,1072.7 518.9,1072 520.2,1071.7 521.5,1072.5 522.7,1072.7 524,1072.6 525.2,1072.8 526.1,1072.5 527.8,1072.8 529,1071.6 530.3,1070.2 531.5,1071 532.8,1069.9 533.4,1070.3 534.1,1071.5 535.3,1071.3 537.1,1073.1 537.8,1072.6 539.1,1072.8 540.4,1072.8 541.6,1072.3 542.9,1071.6 544.1,1073.1 545.4,1073.1 546.2,1072.1 547.9,1071.3 549.2,1072.2 550.4,1072.4 551.7,1071.9 553,1073.1 554.2,1073 555.4,1072.5 556.7,1072.2 558,1072.7 559.3,1072.8 560.5,1071.7 561.8,1071 563,1072.3 564.6,1071.8 565.6,1072 566.8,1071.2 568.1,1071.9 569.3,1072.6 570.6,1072.8 571.9,1073.3 573.1,1072.4 574.9,1072.5 575,1071.8 575.6,1072.5 576.9,1072.3 578.2,1072.5 579.4,1071.7 580.7,1073.1 581.4,1072.4 583.2,1072.1 584.5,1071.6 585.7,1071.7 587,1070.6 588,1071.2 589.5,1071.3 590.8,1071.6 592,1071.3 593.3,1071.2 594.5,1072.3 595.8,1071.9 596.6,1072.4 598.3,1072.4 599.6,1072.8 600.8,1072.7 602.1,1071.6 603.4,1071.6 604.6,1070.9 605.2,1071.8 605.9,1070.9 607.1,1071.9 608.4,1071.7 609.7,1071.3 610.9,1071.2 611.8,1070.3 613.4,1069.9 614.7,1070.1 616,1071.8 617.2,1070.8 618.2,1071.8 619.7,1071.8 621,1071 622.3,1072.3 623.5,1072.1 624.8,1070.4 626,1071.5 627.3,1071.2 629.1,1070.7 629.8,1070.5 631.1,1072 632.3,1071.6 633.6,1071.6 634.9,1071.7 636.1,1072.4 637.4,1071.9 638.6,1071.3 639.9,1072.4 641.2,1072.1 642.4,1072.8 643.7,1072.3 644.9,1071.3 646.2,1072.3 647.5,1070.5 648.5,1071.2 650,1072.3 651.2,1070.8 652.5,1072.2 653.8,1071.6 655,1072.4 655,1071.8 656.3,1072.2 657.5,1071.5 658.8,1071.5 660.1,1071.2 661.3,1072.3 662.6,1071.3 663.6,1071.8 665.1,1071.6 666.4,1071.9 667.6,1072.9 668.9,1072.2 670.1,1072.6 671.4,1071.9 672.3,1072.4 673.9,1072 675.2,1072.7 676.4,1071.5 677.7,1071.4 679,1072.1 680.2,1070.5 681,1071.2 682.7,1072.2 684,1070.7 685.3,1072.5 686.5,1072.3 687.8,1071.7 689.5,1072.4 690.3,1072.1 691.6,1071.7 692.8,1071.9 694.1,1071.9 695.3,1072 696.6,1071.9 698.2,1070.7 699.1,1070.3 700.4,1070.9 701.6,1070.6 702.9,1071.6 704.2,1071.9 705.4,1071.9 706.9,1071.8 707.9,1072.7 709.2,1071.6 710.5,1072.1 711.7,1070.9 713,1071.6 714.2,1071.6 715.5,1071.2 716.8,1071.2 718,1070.8 719.3,1071.7 720.5,1070.8 721.8,1072.4 723.1,1072.2 724.2,1071.8 725.6,1072.5 726.8,1071 728.1,1071 729.4,1072 730.6,1071.9 731.8,1071.2 731.8,1070.7 733.1,1070.5 734.4,1070.5 735.7,1070.9 736.9,1071.5 737.9,1071.8 739.4,1072.5 740.7,1073.4 742,1073.1 743.2,1073.4 744.5,1073.9 745.7,1072.8 746.6,1071.2 748.3,1072.3 749.5,1070.7 750.8,1070.6 752,1070.5 753.3,1071.8 754.6,1071.5 755.8,1071.5 757.5,1071.8 758.3,1070.8 759.6,1071.3 760.9,1072 762.1,1070.8 763.4,1071.5 764.6,1071.2 765.9,1070.8 767.2,1072.3 768.2,1071.2 769.7,1070.7 770.9,1070.9 772.2,1070.7 773.5,1070.7 774.7,1071.2 776,1070.3 776.9,1070.3 778.5,1070.1 779.8,1069.5 781,1069.8 781.6,1069.6" stroke="#0d5fe0" stroke-width="2.5"/>
</g>
<line x1="583.2" y1="611" x2="583.2" y2="1130.5" stroke="#0a7a0a" stroke-width="3"/>
<line x1="687.8" y1="611" x2="687.8" y2="1130.5" stroke="#0a7a0a" stroke-width="3"/>
<rect x="85.5" y="611" width="705.6" height="519.5" fill="none" stroke="#000" stroke-width="4.0"/>
<line x1="76.1" y1="1130.5" x2="85.5" y2="1130.5" stroke="#000" stroke-width="3.6"/>
<text transform="translate(70.1 1136.1) scale(1.05 1)" text-anchor="end" font-size="19">−10</text>
<line x1="80.8" y1="1101.6" x2="85.5" y2="1101.6" stroke="#000" stroke-width="3.6"/>
<line x1="76.1" y1="1072.8" x2="85.5" y2="1072.8" stroke="#000" stroke-width="3.6"/>
<text transform="translate(70.1 1078.4) scale(1.05 1)" text-anchor="end" font-size="19">0</text>
<line x1="80.8" y1="1043.9" x2="85.5" y2="1043.9" stroke="#000" stroke-width="3.6"/>
<line x1="76.1" y1="1015.1" x2="85.5" y2="1015.1" stroke="#000" stroke-width="3.6"/>
<text transform="translate(70.1 1020.7) scale(1.05 1)" text-anchor="end" font-size="19">10</text>
<line x1="80.8" y1="986.2" x2="85.5" y2="986.2" stroke="#000" stroke-width="3.6"/>
<line x1="76.1" y1="957.3" x2="85.5" y2="957.3" stroke="#000" stroke-width="3.6"/>
<text transform="translate(70.1 962.9) scale(1.05 1)" text-anchor="end" font-size="19">20</text>
<line x1="80.8" y1="928.5" x2="85.5" y2="928.5" stroke="#000" stroke-width="3.6"/>
<line x1="76.1" y1="899.6" x2="85.5" y2="899.6" stroke="#000" stroke-width="3.6"/>
<text transform="translate(70.1 905.2) scale(1.05 1)" text-anchor="end" font-size="19">30</text>
<line x1="80.8" y1="870.8" x2="85.5" y2="870.8" stroke="#000" stroke-width="3.6"/>
<line x1="76.1" y1="841.9" x2="85.5" y2="841.9" stroke="#000" stroke-width="3.6"/>
<text transform="translate(70.1 847.5) scale(1.05 1)" text-anchor="end" font-size="19">40</text>
<line x1="80.8" y1="813" x2="85.5" y2="813" stroke="#000" stroke-width="3.6"/>
<line x1="76.1" y1="784.2" x2="85.5" y2="784.2" stroke="#000" stroke-width="3.6"/>
<text transform="translate(70.1 789.8) scale(1.05 1)" text-anchor="end" font-size="19">50</text>
<line x1="80.8" y1="755.3" x2="85.5" y2="755.3" stroke="#000" stroke-width="3.6"/>
<line x1="76.1" y1="726.4" x2="85.5" y2="726.4" stroke="#000" stroke-width="3.6"/>
<text transform="translate(70.1 732) scale(1.05 1)" text-anchor="end" font-size="19">60</text>
<line x1="80.8" y1="697.6" x2="85.5" y2="697.6" stroke="#000" stroke-width="3.6"/>
<line x1="76.1" y1="668.7" x2="85.5" y2="668.7" stroke="#000" stroke-width="3.6"/>
<text transform="translate(70.1 674.3) scale(1.05 1)" text-anchor="end" font-size="19">70</text>
<line x1="80.8" y1="639.9" x2="85.5" y2="639.9" stroke="#000" stroke-width="3.6"/>
<line x1="76.1" y1="611" x2="85.5" y2="611" stroke="#000" stroke-width="3.6"/>
<text transform="translate(70.1 616.6) scale(1.05 1)" text-anchor="end" font-size="19">80</text>
<line x1="98.1" y1="1130.5" x2="98.1" y2="1139.9" stroke="#000" stroke-width="3.6"/>
<text transform="translate(98.6 1160.5) scale(1.05 1)" text-anchor="middle" font-size="19">0</text>
<line x1="161.1" y1="1130.5" x2="161.1" y2="1135.2" stroke="#000" stroke-width="3.6"/>
<line x1="224.1" y1="1130.5" x2="224.1" y2="1139.9" stroke="#000" stroke-width="3.6"/>
<text transform="translate(224.6 1160.5) scale(1.05 1)" text-anchor="middle" font-size="19">100</text>
<line x1="287.1" y1="1130.5" x2="287.1" y2="1135.2" stroke="#000" stroke-width="3.6"/>
<line x1="350.1" y1="1130.5" x2="350.1" y2="1139.9" stroke="#000" stroke-width="3.6"/>
<text transform="translate(350.6 1160.5) scale(1.05 1)" text-anchor="middle" font-size="19">200</text>
<line x1="413.1" y1="1130.5" x2="413.1" y2="1135.2" stroke="#000" stroke-width="3.6"/>
<line x1="476.1" y1="1130.5" x2="476.1" y2="1139.9" stroke="#000" stroke-width="3.6"/>
<text transform="translate(476.6 1160.5) scale(1.05 1)" text-anchor="middle" font-size="19">300</text>
<line x1="539.1" y1="1130.5" x2="539.1" y2="1135.2" stroke="#000" stroke-width="3.6"/>
<line x1="602.1" y1="1130.5" x2="602.1" y2="1139.9" stroke="#000" stroke-width="3.6"/>
<text transform="translate(602.6 1160.5) scale(1.05 1)" text-anchor="middle" font-size="19">400</text>
<line x1="665.1" y1="1130.5" x2="665.1" y2="1135.2" stroke="#000" stroke-width="3.6"/>
<line x1="728.1" y1="1130.5" x2="728.1" y2="1139.9" stroke="#000" stroke-width="3.6"/>
<text transform="translate(728.6 1160.5) scale(1.05 1)" text-anchor="middle" font-size="19">500</text>
<line x1="791.1" y1="1130.5" x2="791.1" y2="1135.2" stroke="#000" stroke-width="3.6"/>
<text x="438.3" y="1198.7" text-anchor="middle" font-size="24" font-weight="bold">Dataset</text>
<text transform="translate(24.7 870.8) rotate(-90)" text-anchor="middle" font-size="25" font-weight="bold">D<tspan font-size="15.5" dy="6.5">nssm</tspan><tspan dy="-6.5"> (x10</tspan><tspan font-size="17" dy="-10">-12</tspan><tspan dy="10"> m</tspan><tspan font-size="17" dy="-10">2</tspan><tspan dy="10">/s)</tspan></text>
<rect x="95.8" y="623.6" width="322.5" height="91.6" fill="#fff" stroke="#9a33ff" stroke-width="3.6"/>
<line x1="98.9" y1="639.5" x2="152.8" y2="639.5" stroke="#06f406" stroke-width="2.6"/>
<text x="159.6" y="648" font-size="24">Experimental Dnssm</text>
<line x1="98.9" y1="669.4" x2="152.8" y2="669.4" stroke="#ee3a3a" stroke-width="2.6"/>
<text x="159.6" y="677.9" font-size="24">SVR-PSO prdicted Dnssm</text>
<line x1="98.9" y1="698.8" x2="152.8" y2="698.8" stroke="#0d5fe0" stroke-width="2.6"/>
<text x="159.6" y="707.3" font-size="24">Relative error</text>
<rect x="335.3" y="782.7" width="167.1" height="32.4" fill="#b6e3fa" stroke="#000" stroke-width="2.6"/>
<text x="418.9" y="806.9" text-anchor="middle" font-size="24">Training Dataset</text>
<rect x="625.5" y="649.5" width="33.9" height="186.1" fill="#b6e3fa" stroke="#000" stroke-width="2.6"/>
<text transform="translate(650.9 743.1) rotate(-90)" text-anchor="middle" font-size="24.5">Validation Dataset</text>
<rect x="726.4" y="660.3" width="33.2" height="156.8" fill="#b6e3fa" stroke="#000" stroke-width="2.6"/>
<text transform="translate(751.1 739.3) rotate(-90)" text-anchor="middle" font-size="24.5">Testing Dataset</text>
<clipPath id="c3"><rect x="927.3" y="610" width="708.5" height="522"/></clipPath>
<g clip-path="url(#c3)" fill="none" stroke-linejoin="round" stroke-linecap="round">
<polyline points="940.8,1057.8 945.1,1071.5 946.9,1036.6 948.8,1036.6 950.6,1041.2 953,1010.9 955.3,987 957,1007.2 957.9,1021.9 959.8,977.8 962.2,979.6 963.5,992.5 965.3,928.2 966.3,1012.7 967.2,970.5 968,952.1 968.9,951.2 970.3,1011.8 972.1,951.2 973.6,951.2 975,1007.2 976.3,1044 979,1064.1 981.8,1066 984.2,1028.4 986.4,1060.5 990.1,1067.9 992.8,1044 995.6,1041.2 997.4,1058.6 999.3,1022.8 1002.1,1055 1004.7,1068.8 1007.5,1031.1 1009.4,1053.1 1012.1,995.2 1014,1025.6 1015.7,1051.3 1017.1,1036.6 1017.1,1040.3 1018.1,1036.6 1019.9,998 1022.3,919 1023.6,1055 1025.5,1025.6 1027.2,1010.9 1028.5,1049.5 1030.4,1038.4 1032.2,1029.3 1033.7,1051.3 1035.5,1044 1037.4,1044 1038.9,1017.3 1041,1051.3 1043.6,832.8 1044.7,953.9 1045.6,941.1 1046.9,1027.4 1048.8,841.8 1049.9,838.2 1051.3,822.5 1052.4,1044 1053.6,1010.9 1054.8,1059.6 1056.1,1010.9 1057.6,1012.7 1059.8,1038.4 1062.2,1041.2 1064.6,1025.6 1066.3,979.6 1068.6,1054 1069.5,1010.9 1070.8,1012.7 1072.3,1036.6 1073.7,1010 1076,1025.6 1077.7,1038.4 1080.5,1040.3 1082.7,1049.5 1085.1,1025.6 1086.6,970.5 1087.9,1044 1089.1,1014.5 1090.6,1032.9 1091.5,1034.8 1093.9,942.9 1095.8,1016.4 1097.5,1029.3 1097.5,1014.5 1099,1041.2 1100.2,1039.4 1103,1017.3 1104.8,1044 1106.7,1045.8 1108.9,1012.7 1110.8,1051.3 1113.2,1020.1 1114.4,998.9 1116.8,1042.1 1118.1,1016.4 1120.5,1020.1 1123.1,1052.2 1124.7,1023.7 1126.8,1034.8 1129.6,1056.8 1130.9,1023.7 1132.8,1044 1133.9,1047.6 1136.1,1065.1 1138.2,963.1 1140.1,1036.6 1141.6,1023.7 1143.4,1036.6 1145.7,1023.7 1147.4,963.1 1149,1036.6 1150.7,1023.7 1152.6,1036.6 1154.4,1023.7 1156.3,963.1 1157.7,1036.6 1160,1023.7 1161.4,1031.1 1163.3,1021.9 1166.4,1050.4 1168.7,1014.5 1170.6,1047.6 1172.7,996.2 1174.6,1020.1 1177.7,977.8 1177.8,977.8 1178.7,1016.4 1180.1,972.3 1181.5,994.4 1183,979.6 1184.3,951.2 1185.5,992.5 1186.7,968.6 1187.9,1025.6 1189.2,1009 1190.7,1007.2 1192.9,955.7 1194,972.3 1195.3,1028.4 1197.2,1005.4 1199.8,985.1 1201.7,1018.2 1204.5,969.5 1207.2,1012.7 1209.1,1007.2 1211.2,992.5 1214.2,1001.7 1216.4,1029.3 1218.2,1041.2 1220.9,1010.9 1221.8,1048.5 1224.6,997.1 1226.5,1021.9 1229.6,985.1 1231.1,1021.9 1233.2,969.5 1235.6,988.9 1238.4,944.7 1241.2,972.3 1242.1,977.8 1244,1025.6 1244.9,1052.2 1247.3,1018.2 1249,1044 1251.3,996.2 1253.5,1021.9 1256.4,979.6 1258,1025.6 1258.1,1025.6 1260,972.3 1261.8,994.4 1263.3,970.5 1265.1,941.1 1266.4,974.1 1267.8,970.5 1268.8,1016.4 1270,1003.5 1272.4,1046.7 1273.7,1023.7 1275.1,1042.1 1276.5,1025.6 1277.4,1044 1279.3,1020.1 1280.5,1032.9 1281.7,973.2 1282.9,1040.3 1284.2,1029.3 1285.7,1012.7 1287.5,1031.1 1289,1045.8 1290.8,1023.7 1292.7,994.4 1293.9,1025.6 1295.8,1016.4 1298.1,970.5 1299.5,1047.6 1301.3,1044 1302.2,1036.6 1305.6,895.1 1306.2,1007.2 1307.7,1037.5 1309.5,970.5 1311.4,1044 1313.2,1016.4 1314.7,1038.4 1316,1045.8 1318.7,1025.6 1320.6,1040.3 1322,971.4 1323.3,1007.2 1325.2,1045.8 1328,1021.9 1330.1,1025.6 1331.7,1001.7 1333.4,1032.9 1334.9,980.6 1337.1,1021.9 1338.4,1020.1 1338.5,1020.1 1340.6,985.1 1342.2,981.5 1344.3,972.3 1345.8,979.6 1347.3,1005.4 1348.6,1044 1349.5,1045.8 1351,1023.7 1352.3,1044 1353.5,1025.6 1355.1,1045.8 1356.4,1020.1 1357.7,1031.1 1359.1,973.2 1360.5,1036.6 1362,1040.3 1362.9,1014.5 1364.2,1021.9 1366.1,1044.9 1367.8,1025.6 1370.1,994.4 1371.5,1018.2 1373,1025.6 1375.2,970.5 1376.7,1046.7 1378,1023.7 1378.8,1045.8 1382.5,896.1 1384,1007.2 1385.8,1036.6 1386.6,970.5 1388.1,1036.6 1389.8,1025.6 1391.7,1014.5 1393.5,1044 1395.4,1025.6 1397.2,1032.9 1399.1,971.4 1400.9,1016.4 1402.8,1044.9 1404.7,1021.9 1406.4,1032.9 1408.3,1001.7 1410.1,1038.4 1412,980.6 1413.8,1018.2 1415.7,1021.9 1417.4,981.5 1418.7,988.9 1418.8,985 1421,972 1422.7,976.4 1424.9,1026.3 1427,1052.4 1428.6,1015.5 1430.1,1024.1 1432.2,973.1 1433.6,1011.1 1435.8,1041.5 1438.3,972 1441,917.7 1442.7,985 1444.9,1028.5 1446.5,859.1 1448.8,829.8 1449.6,928.6 1451,1026.3 1452.5,1061.1 1454,1061.1 1455.8,1048 1457.4,1061.1 1458.9,993.7 1460.4,1037.2 1462.2,1060 1464.4,1026.3 1466.1,1043.7 1467.7,959 1469.8,1028.5 1470.9,1056.7 1473.1,969.8 1475.2,985 1477.4,1054.6 1480.7,1058.9 1481.7,1056.7 1484,1065.4 1485,1010 1487.8,1058.9 1490.1,1041.5 1492.2,1058.9 1494.4,972 1495.9,1028.5 1496.9,1061.1 1499.2,1004.6 1499.2,1004.6 1501.3,1043.7 1503.5,1054.6 1505.6,1065.4 1507.8,1058.9 1510,1066.5 1512.2,1015.5 1513.8,1058.9 1516.1,1045.9 1518.3,1061.1 1520.8,974.2 1523.1,1061.1 1525.6,1006.8 1527.4,1026.3 1529.5,1045.9 1531.7,1065.4 1533.8,1058.9 1536,1065.4 1538.3,1017.6 1540.4,1063.2 1542.6,1048 1545.1,1063.2 1547.4,975.3 1549.5,1043.7 1551.3,1061.1 1552.6,1011.1 1554.4,1050.2 1556,1032.8 1557.7,993.7 1560.4,962.2 1561.7,1026.3 1563.4,1015.5 1565.3,1045.9 1567.5,995.9 1569,1035 1570.8,1022 1572.9,1028.5 1575.1,1043.7 1576.2,927.5 1576.2,928.6 1577.7,939.4 1579.2,950.3 1580.3,985 1582.9,895 1584.6,1008.9 1586.8,902.6 1588.5,1008.9 1589.4,1041.5 1590.6,991.6 1593.3,991.6 1595.1,1026.3 1596.6,1035 1598.1,1043.7 1599.9,1052.4 1602,1054.6 1604.2,1055.6 1605.2,1012.2 1608.1,1015.5 1610.2,1037.2 1612.4,1050.2 1613.9,1048 1615.4,1058.9 1617.2,1061.1 1620.4,1066.5 1621.5,1015.5 1623.7,1052.4 1626.3,1061.1" stroke="#06f406" stroke-width="2.5"/>
<polyline points="940.8,1051.3 944.1,1067.9 946.9,1025.6 948.8,1012.7 950.1,1025.6 951.2,1018.2 953,1021.9 955.3,998 957,1001.7 958.5,1021.9 960.3,963.1 961.6,912.6 962.9,924.5 963.6,970.5 964.4,923.6 965.3,988.9 966.3,1012.7 967.2,970.5 968,952.1 968.9,951.2 969.7,988.9 970.3,1011.8 971.2,970.5 972.1,951.2 972.8,988.9 973.6,951.2 974.5,998 975,1007.2 976.3,1044 978.2,1062.3 979.4,1052.2 981.8,1066 984.2,1028.4 986.4,1060.5 989.2,1052.2 991.1,1066 993.7,1047.6 996.5,1047.6 999.3,1022.8 1002.1,1055 1004.7,1066 1007.5,1031.1 1009.4,1053.1 1012.1,1001.7 1014.9,1044 1017.1,1036.6 1017.1,1040.3 1018.1,1036.6 1019.9,998 1022.3,926.3 1023.6,1055 1025.5,1025.6 1027.2,1010.9 1028.5,1049.5 1030.4,1038.4 1032.2,1029.3 1033.7,1051.3 1035.5,1044 1037.4,1044 1038.9,1017.3 1041,1051.3 1042.9,919 1044.3,953.9 1045.6,941.1 1046.9,1027.4 1048.8,826.2 1049.9,838.2 1051.3,829 1052.4,1044 1053.6,1010.9 1054.8,1058.6 1056.1,1010.9 1057.6,1012.7 1059.8,1038.4 1062.2,1041.2 1064.6,1025.6 1066.3,979.6 1068.2,1053.1 1069.5,1010.9 1070.8,1012.7 1072.3,1034.8 1073.7,1010 1076,1025.6 1077.7,1038.4 1080.5,1040.3 1082.7,1048.5 1085.1,1025.6 1086.6,985.1 1087.9,1044 1089.1,1014.5 1091.5,1034.8 1093.9,942.9 1095.8,1016.4 1097.5,1029.3 1097.5,1014.5 1099,1036.6 1100.2,1039.4 1103,1020.1 1104.8,1044 1106.7,1045.8 1108.9,1016.4 1110.8,1049.5 1113.2,1020.1 1114.4,1003.5 1116.8,1040.3 1118.1,1016.4 1120.5,1020.1 1123.1,1049.5 1124.7,1025.6 1126.8,1034.8 1128.3,1053.1 1130.9,1025.6 1132.8,1044 1133.9,1047.6 1136.1,1062.3 1138.2,963.1 1140.1,1032.9 1141.6,1023.7 1143.4,1032.9 1145.7,1023.7 1147.4,963.1 1149,1032.9 1150.7,1023.7 1152.6,1032.9 1154.4,1023.7 1156.3,963.1 1157.7,1032.9 1160,1023.7 1161.4,1031.1 1163.3,1021.9 1166.4,1049.5 1168.7,1014.5 1170.6,1047.6 1172.7,996.2 1174.6,1020.1 1177.7,977.8 1177.8,977.8 1178.7,1014.5 1180.1,972.3 1181.5,994.4 1183,979.6 1184.3,955.7 1185.5,992.5 1186.7,970.5 1187.9,1025.6 1189.2,996.2 1190.7,1007.2 1192.1,974.1 1194,972.3 1195.3,1027.4 1197.2,1005.4 1199.8,985.1 1201.7,1018.2 1204.5,976 1206.3,1005.4 1208.2,1007.2 1210.6,1001.7 1212.3,998 1214.2,1001.7 1216.4,1029.3 1218.2,1041.2 1220.9,1010.9 1222.2,1045.8 1224.6,1001.7 1226.5,1021.9 1229.6,985.1 1231.4,1021.9 1233.9,972.3 1235.6,988.9 1238.4,950.2 1240.3,974.1 1242.1,977.8 1244,1025.6 1245.4,1051.3 1247.3,1018.2 1249,1044 1251.3,996.2 1253.5,1021.9 1256.4,979.6 1258,1025.6 1258.1,1021.9 1260,972.3 1261.8,994.4 1263.3,970.5 1265.1,944.7 1266.4,974.1 1267.8,977.8 1268.8,1016.4 1270,1003.5 1272.4,1044 1273.7,1023.7 1275.1,1042.1 1276.5,1025.6 1278,1040.3 1279.3,1020.1 1280.5,1032.9 1281.7,1010.9 1282.9,1038.4 1284.2,1029.3 1285.7,1012.7 1287.5,1031.1 1289,1044 1290.8,1023.7 1292.7,994.4 1293.9,1025.6 1295.8,1016.4 1298.1,898.8 1299.5,1045.8 1300.8,1025.6 1302.2,1036.6 1305.6,924.5 1306.2,1007.2 1307.7,1029.3 1309.5,928.2 1311.4,1036.6 1313.2,1016.4 1314.7,1038.4 1316.6,1044 1318.7,1025.6 1320.6,1040.3 1322,981.5 1323.3,1007.2 1325.2,1044 1328,1021.9 1330.1,1025.6 1331.7,1012.7 1333.4,1038.4 1335.3,992.5 1337.1,1018.2 1338.4,1020.1 1338.5,1012.7 1340.6,985.1 1342.2,981.5 1344.3,974.1 1345.8,979.6 1347.3,1005.4 1348.6,1021.9 1349.5,1044 1351,1023.7 1352.3,1044 1353.5,1025.6 1355.1,1044 1356.4,1020.1 1357.7,1031.1 1359.1,1010.9 1360.5,1036.6 1362,1040.3 1362.9,1014.5 1364.2,1021.9 1366.1,1044 1367.8,1025.6 1370.1,994.4 1371.5,1018.2 1373,1025.6 1375.2,898.8 1376.7,1045.8 1378,1023.7 1379.2,1034.8 1382.5,924.5 1384,1007.2 1385.3,1036.6 1386.6,928.2 1388.1,1036.6 1389.8,1025.6 1391.7,1014.5 1393.3,1044 1395.4,1025.6 1397.2,1032.9 1399.1,981.5 1400.9,1016.4 1402.8,1044 1404.7,1021.9 1406.4,1032.9 1408.3,1010.9 1410.1,1038.4 1412,992.5 1413.8,1018.2 1415.7,1007.2 1417.4,985.1 1418.7,988.9 1418.8,985 1421,974.2 1422.7,976.4 1424.9,1026.3 1427,1052.4 1428.6,1019.8 1430.1,1024.1 1432.2,976.4 1433.6,1011.1 1435.8,1041.5 1437.9,987.2 1439.4,972 1441,917.7 1442.7,985 1444.9,1028.5 1446.5,928.6 1448,873.2 1449.6,928.6 1451,1026.3 1452.5,1054.6 1454,1061.1 1455.8,1048 1457.4,1061.1 1458.9,998.1 1460.4,1037.2 1462.2,1058.9 1464.4,1026.3 1466.1,1037.2 1467.7,959 1469.8,1028.5 1471.3,1048 1473.1,969.8 1475.2,985 1477.4,1054.6 1480.7,1058.9 1481.7,1056.7 1484,1065.4 1485.6,1008.9 1487.8,1058.9 1490.1,1041.5 1492.2,1058.9 1494.4,978.5 1495.9,1028.5 1497.4,1058.9 1499.2,1004.6 1499.2,1004.6 1501.3,1043.7 1503.5,1054.6 1505.6,1065.4 1507.8,1058.9 1510,1066.5 1512.2,1019.8 1513.8,1058.9 1516.1,1045.9 1518.3,1061.1 1520.8,980.7 1523.1,1061.1 1525.6,1006.8 1527.4,1026.3 1529.5,1045.9 1531.7,1065.4 1533.8,1058.9 1536,1065.4 1538.3,1019.8 1540.4,1063.2 1542.6,1048 1545.1,1063.2 1547.4,982.9 1549.5,1043.7 1551.3,1061.1 1552.6,1011.1 1554.4,1048 1556,1032.8 1557.7,993.7 1559.9,965.5 1561.7,1026.3 1563.4,1015.5 1565.3,1043.7 1567.5,998.1 1569,1035 1570.8,1022 1572.9,1028.5 1574.7,1041.5 1576.2,950.3 1576.2,950.3 1577.7,885.2 1579.2,845.5 1580.8,961.2 1582,989.4 1582.9,896 1584.2,1004.6 1585.7,917.7 1586.8,1015.5 1588.5,1008.9 1590,995.9 1591.5,1015.5 1593.3,993.7 1595.1,1026.3 1596.6,1035 1598.1,1043.7 1599.9,1052.4 1602,1054.6 1604.2,1055.6 1605.9,1013.3 1608.1,1015.5 1610.2,1037.2 1612.4,1050.2 1613.9,1048 1615.4,1058.9 1617.2,1061.1 1619.4,1063.2 1621.1,1006.8 1622.6,1041.5 1624.8,1041.5 1626.3,1043.7" stroke="#ee3a3a" stroke-width="2.5"/>
<polyline points="941.5,1072.4 942.5,1071.9 944.1,1068.8 945,1071 946.3,1073.2 946.9,1073.4 947.5,1073.7 948.8,1072.8 950.1,1073.4 951.6,1074.3 952.6,1074.7 953.9,1073.8 955.3,1073.7 956.4,1074.8 957.7,1075.3 958.9,1074.8 960.2,1072.3 961.6,1071.5 962.7,1071.4 964,1072 965.3,1073.9 966.3,1073.7 967.8,1073.1 969.1,1072.7 969.9,1073 971.6,1072.8 972.8,1074.9 973.6,1074.3 975.4,1073 976.6,1072.7 977.9,1072.8 979,1071.5 980.4,1073.4 981.7,1072.6 982.7,1074.3 984.2,1073.8 985.5,1074 986.4,1073.4 988,1072.4 989.3,1071.1 990.1,1071.5 992,1074.3 993.1,1073.6 994.4,1072.3 995.6,1071.5 997.4,1069.7 998.1,1072.3 999.3,1075.2 1000.7,1075.5 1001.9,1074.8 1003,1073.4 1004.7,1069.3 1005.7,1070.7 1007.5,1073.4 1008.3,1073.8 1009.5,1072.5 1010.8,1074.2 1012.1,1073.7 1013.3,1074.3 1014.6,1073.4 1015.9,1074.2 1017.1,1073.7 1017.1,1073.4 1018.4,1072.8 1019.7,1073.7 1020.8,1073.4 1022.2,1072.9 1023.5,1074.9 1024.5,1074.3 1026,1074.5 1027.2,1073 1028.1,1073.4 1029.8,1074.6 1031,1074.9 1031.8,1074.8 1033.6,1074.1 1034.8,1074.3 1035.5,1073 1036.1,1072.8 1037.4,1072.8 1039.1,1074.3 1039.9,1074.2 1041.2,1074.5 1042.4,1077.2 1043.8,1077 1045,1074.7 1046.6,1073.7 1047.5,1073.8 1048.8,1072.6 1050,1073.1 1051.3,1072.6 1052.6,1073.6 1053.9,1073 1055.1,1073.3 1056.3,1074.2 1057.6,1073.9 1058.9,1072.9 1060.1,1074.5 1061.3,1074.3 1062.7,1075 1063.9,1074.6 1065.2,1073.2 1066.5,1073.9 1067.7,1073.9 1068.6,1073.4 1070.3,1072.5 1071.5,1073.9 1072.8,1074.5 1074.1,1075 1075.3,1075.2 1076,1074.3 1076.6,1074.9 1077.9,1073.7 1079.1,1074.6 1080.4,1074.7 1081.7,1073.6 1083.3,1073.4 1084.2,1072.4 1085.4,1074.4 1086.7,1073.7 1088,1073.4 1089.2,1074.3 1090.6,1074.3 1091.8,1074.2 1093,1074.6 1094.3,1074.2 1095.6,1074.8 1096.8,1073.9 1097.5,1073.7 1097.5,1073.4 1098.1,1073.9 1099.4,1072.8 1100.6,1073.1 1101.9,1073.9 1103.2,1075 1104.8,1074.3 1105.7,1074.7 1107,1074.6 1108.2,1074.4 1109.5,1072.9 1110.8,1074.3 1112.1,1073.4 1113.3,1072.4 1114.5,1073.1 1115.8,1072.1 1117.1,1073.3 1118.3,1072.2 1119.5,1073 1120.9,1072.3 1122.1,1072.2 1123.4,1072.6 1125,1072.4 1125.9,1073.6 1127.2,1073.1 1128.7,1074.8 1129.7,1075.2 1130.5,1077 1132.3,1074.6 1133.3,1073.7 1134.8,1073.4 1136.1,1073 1137.3,1073.5 1138.6,1073.2 1139.8,1073.1 1141.6,1073.4 1142.4,1072.5 1143.6,1072.5 1144.9,1074.3 1146.2,1072.5 1147.4,1072.6 1148.7,1073.2 1150,1074.6 1151.2,1072.8 1152.6,1073.7 1153.8,1072.7 1155,1073.3 1156.3,1074.5 1157.6,1074.2 1158.8,1073.2 1160.1,1073.3 1161.4,1072.9 1162.6,1072.5 1163.6,1073.4 1165.2,1074.6 1166.4,1072.8 1167.7,1074.9 1168.9,1073.2 1170.2,1075 1171,1074.3 1172.7,1073.5 1174,1073.1 1175.3,1073.6 1176.5,1072.7 1177.7,1073.4 1177.8,1073.4 1179.1,1073.2 1180.3,1074.1 1181.6,1073.2 1183.4,1074.3 1184.1,1074.5 1185.4,1074.5 1187,1074.8 1187.9,1076.1 1189.2,1075.3 1190.7,1076.1 1191.7,1074.8 1193,1074.8 1194.4,1074.3 1195.5,1074.5 1196.8,1073.5 1198,1073.9 1199.3,1074.9 1200.6,1073.1 1201.7,1073.7 1203.1,1074.5 1204.4,1073.5 1205.6,1073.8 1206.9,1072.8 1208.2,1073.8 1209.1,1073.4 1210.7,1073.5 1212,1072.7 1213.2,1074.6 1214.5,1074.7 1215.8,1073.8 1217,1073.4 1218.2,1074.3 1219.6,1074.2 1220.8,1073.2 1222.1,1073.2 1223.4,1074.5 1224.6,1072.7 1225.6,1073.4 1227.1,1073.9 1228.4,1073 1229.7,1074.1 1230.9,1073.4 1232.2,1074.9 1233,1074.3 1234.7,1074.7 1236,1074.6 1237.3,1073.7 1238.5,1073.8 1239.8,1073.2 1241.1,1072.3 1242.1,1073 1243.6,1074.2 1244.9,1073.8 1246.1,1073.4 1247.6,1073.7 1248.7,1073.2 1249.9,1073.7 1251.2,1074.5 1252.5,1074.1 1253.7,1072.8 1255,1073.8 1256.2,1072.8 1258,1073.4 1258.1,1073.4 1258.8,1073.2 1260,1073.3 1261.3,1073.7 1262.6,1074.5 1263.7,1074.3 1265.1,1074.1 1266.4,1073 1267.6,1074 1269.2,1073.4 1270.2,1072.7 1271.4,1073 1272.7,1073.3 1274,1073.9 1275.2,1072.5 1276.5,1073 1277.8,1073.2 1279.3,1074.3 1280.3,1077.1 1281.2,1077.9 1282.9,1073.4 1284.1,1074.2 1285.3,1072.8 1286.6,1074.2 1287.9,1073.9 1289.4,1074.3 1290.4,1073.9 1291.7,1074.8 1292.9,1073.9 1294.2,1072.5 1294.8,1073.4 1295.5,1073.8 1296.7,1072.3 1298,1072.5 1299.5,1071.5 1300.5,1073.5 1302.2,1074.3 1303.1,1073.3 1304.3,1073.4 1305.6,1073.4 1306.9,1073.3 1308.1,1072.9 1309.5,1073.7 1310.6,1073.4 1311.9,1073.5 1313.2,1073.2 1314.4,1072.3 1315.7,1072.6 1317,1073 1318.2,1074.1 1319.5,1073.1 1320.8,1073.3 1322,1073.4 1323.3,1073.9 1324.3,1074.3 1325.8,1074.5 1327.1,1073.1 1328.4,1074 1329.6,1073.4 1330.9,1072.6 1331.7,1073.4 1333.4,1074 1334.7,1074.3 1336,1074.3 1337.2,1073.9 1338.4,1074.3 1338.5,1073.7 1339.7,1073 1341,1074.1 1342.3,1074.2 1343.5,1073.4 1344.8,1074.6 1345.8,1074.3 1347.3,1075.1 1348.6,1074.6 1349.9,1073.7 1351.1,1073.2 1352.4,1073.2 1353.2,1073.4 1354.9,1072.8 1356.2,1073.9 1356.8,1074.3 1357.5,1076.2 1358.7,1077.9 1360.5,1073.4 1361.3,1072.4 1362.5,1072.5 1363.8,1073.2 1365.1,1073.9 1366.3,1074.4 1367.6,1074.1 1368.8,1074.2 1369.7,1073.7 1371.4,1072.4 1372.6,1072.3 1373.9,1073.2 1375.2,1072.6 1376.4,1072.1 1377.1,1071.5 1377.7,1071 1379,1073.7 1380.7,1074.3 1381.5,1073.8 1382.8,1074 1384,1073 1385.3,1074.3 1386.6,1073.7 1387.8,1074.3 1389.1,1074.3 1389.8,1073.4 1391.6,1073.8 1392.9,1074.3 1394.2,1074.5 1395.4,1072.5 1396.7,1074.1 1397.9,1072.8 1399.1,1073.7 1400.5,1073.1 1401.7,1073.2 1403,1072.5 1404.3,1072.5 1405.5,1072.8 1406.8,1073 1408.3,1073 1409.3,1072.6 1410.6,1073.1 1411.9,1073.2 1413.1,1074.1 1414.4,1072.7 1415.7,1073.5 1416.9,1074.5 1418.7,1073.7 1418.8,1073 1419.5,1072.3 1420.7,1073.7 1422,1073.5 1423.2,1073.1 1424.5,1072.8 1425.3,1073.7 1427,1073.5 1428.3,1073.2 1429.6,1073.8 1430.8,1071.8 1431.9,1072.4 1433.4,1071.6 1434.6,1073.5 1435.9,1073.7 1437.2,1072.4 1438.4,1072.7 1439.7,1074.1 1440.5,1073.7 1442.2,1073.6 1443.5,1073 1444.8,1074 1446,1072.5 1447.3,1072.1 1448.6,1072.6 1449.2,1073 1449.8,1072 1451.1,1071.7 1452.3,1072.5 1453.6,1071.3 1454.9,1071 1455.8,1071.5 1457.4,1072.7 1458.7,1071.9 1459.9,1071.6 1461.2,1073.2 1462.2,1073 1463.7,1072 1465,1072.5 1466.3,1073.6 1467.5,1072.2 1468.8,1072.8 1470.1,1071.4 1471.3,1071.7 1473.1,1071.9 1473.9,1071.2 1475.1,1072 1476.4,1072.8 1477.7,1072 1478.9,1072 1480.2,1072.2 1481.4,1072.4 1482.7,1073.1 1484,1073.7 1485.2,1073.2 1486.5,1073.2 1487.8,1072.1 1489,1073.2 1490.3,1073.6 1491.6,1072.1 1492.6,1072.4 1494.1,1072.5 1495.4,1072.7 1496.6,1073.7 1497.9,1074.1 1499.2,1073.7 1499.2,1073 1500.4,1072.4 1501.7,1072.1 1503,1072.6 1504.2,1073.8 1505.5,1072 1506.8,1072.3 1507.8,1073 1509.3,1074.2 1510.5,1072.5 1511.8,1073.1 1513.1,1073.1 1514.3,1074.5 1515.6,1073.1 1516.5,1073.7 1518.1,1073.5 1519.4,1073.9 1520.7,1073.4 1521.9,1072 1523.2,1072.1 1524.5,1071.9 1525.2,1072.4 1527,1072.9 1528.3,1072.6 1529.5,1074 1530.8,1073.4 1532.1,1072.4 1533.8,1073.7 1534.6,1072.7 1535.9,1073.7 1537.1,1072.6 1538.4,1072.1 1539.6,1072.1 1540.9,1072.4 1542.6,1071.9 1543.4,1073 1544.7,1071.4 1546,1071.4 1547.2,1073 1548.5,1072.1 1549.8,1073 1551.3,1073 1552.3,1072.2 1553.6,1073.2 1554.8,1072.5 1556.1,1073.2 1557.4,1072.5 1558.6,1073.5 1559.9,1072.4 1561.2,1072.9 1562.4,1071.7 1563.7,1073.4 1564.9,1072.2 1566.2,1073.7 1567.5,1071.9 1568.6,1073 1570,1073.8 1571.3,1073.4 1572.5,1071.8 1573.8,1072.2 1575.1,1071.7 1576.2,1072.4 1576.2,1071.9 1577.6,1073 1578.9,1072.7 1580.1,1072.7 1581.4,1071.8 1582.4,1073 1583.9,1074.1 1585.2,1073.2 1586.5,1075.2 1587.7,1073.8 1589,1075.2 1590.3,1073.4 1591.1,1072.4 1592.8,1071.6 1594,1073.4 1595.3,1071.9 1596.6,1073.4 1597.8,1072.3 1599.1,1073.8 1600.4,1072.4 1602,1073 1602.9,1073.6 1604.2,1073.9 1605.4,1073.2 1606.7,1073.1 1608,1071.7 1609.2,1072.4 1610.5,1072.8 1611.8,1071.4 1612.8,1072.4 1614.3,1072.8 1615.6,1071.2 1616.8,1071 1618.1,1071.4 1619.4,1070.7 1620.6,1072.5 1621.5,1071.5 1623.1,1070.9 1624.4,1070.8 1625.7,1070.2 1626.3,1070.8" stroke="#0d5fe0" stroke-width="2.5"/>
</g>
<line x1="1427" y1="610" x2="1427" y2="1132" stroke="#0a7a0a" stroke-width="3"/>
<line x1="1532.1" y1="610" x2="1532.1" y2="1132" stroke="#0a7a0a" stroke-width="3"/>
<rect x="927.3" y="610" width="708.5" height="522" fill="none" stroke="#000" stroke-width="4.0"/>
<line x1="917.9" y1="1132" x2="927.3" y2="1132" stroke="#000" stroke-width="3.6"/>
<text transform="translate(911.6 1137.6) scale(1.05 1)" text-anchor="end" font-size="19">−10</text>
<line x1="922.6" y1="1103" x2="927.3" y2="1103" stroke="#000" stroke-width="3.6"/>
<line x1="917.9" y1="1074" x2="927.3" y2="1074" stroke="#000" stroke-width="3.6"/>
<text transform="translate(911.6 1079.6) scale(1.05 1)" text-anchor="end" font-size="19">0</text>
<line x1="922.6" y1="1045" x2="927.3" y2="1045" stroke="#000" stroke-width="3.6"/>
<line x1="917.9" y1="1016" x2="927.3" y2="1016" stroke="#000" stroke-width="3.6"/>
<text transform="translate(911.6 1021.6) scale(1.05 1)" text-anchor="end" font-size="19">10</text>
<line x1="922.6" y1="987" x2="927.3" y2="987" stroke="#000" stroke-width="3.6"/>
<line x1="917.9" y1="958" x2="927.3" y2="958" stroke="#000" stroke-width="3.6"/>
<text transform="translate(911.6 963.6) scale(1.05 1)" text-anchor="end" font-size="19">20</text>
<line x1="922.6" y1="929" x2="927.3" y2="929" stroke="#000" stroke-width="3.6"/>
<line x1="917.9" y1="900" x2="927.3" y2="900" stroke="#000" stroke-width="3.6"/>
<text transform="translate(911.6 905.6) scale(1.05 1)" text-anchor="end" font-size="19">30</text>
<line x1="922.6" y1="871" x2="927.3" y2="871" stroke="#000" stroke-width="3.6"/>
<line x1="917.9" y1="842" x2="927.3" y2="842" stroke="#000" stroke-width="3.6"/>
<text transform="translate(911.6 847.6) scale(1.05 1)" text-anchor="end" font-size="19">40</text>
<line x1="922.6" y1="813" x2="927.3" y2="813" stroke="#000" stroke-width="3.6"/>
<line x1="917.9" y1="784" x2="927.3" y2="784" stroke="#000" stroke-width="3.6"/>
<text transform="translate(911.6 789.6) scale(1.05 1)" text-anchor="end" font-size="19">50</text>
<line x1="922.6" y1="755" x2="927.3" y2="755" stroke="#000" stroke-width="3.6"/>
<line x1="917.9" y1="726" x2="927.3" y2="726" stroke="#000" stroke-width="3.6"/>
<text transform="translate(911.6 731.6) scale(1.05 1)" text-anchor="end" font-size="19">60</text>
<line x1="922.6" y1="697" x2="927.3" y2="697" stroke="#000" stroke-width="3.6"/>
<line x1="917.9" y1="668" x2="927.3" y2="668" stroke="#000" stroke-width="3.6"/>
<text transform="translate(911.6 673.6) scale(1.05 1)" text-anchor="end" font-size="19">70</text>
<line x1="922.6" y1="639" x2="927.3" y2="639" stroke="#000" stroke-width="3.6"/>
<line x1="917.9" y1="610" x2="927.3" y2="610" stroke="#000" stroke-width="3.6"/>
<text transform="translate(911.6 615.6) scale(1.05 1)" text-anchor="end" font-size="19">80</text>
<line x1="940" y1="1132" x2="940" y2="1141.4" stroke="#000" stroke-width="3.6"/>
<text transform="translate(940.5 1162) scale(1.05 1)" text-anchor="middle" font-size="19">0</text>
<line x1="1003.2" y1="1132" x2="1003.2" y2="1136.7" stroke="#000" stroke-width="3.6"/>
<line x1="1066.5" y1="1132" x2="1066.5" y2="1141.4" stroke="#000" stroke-width="3.6"/>
<text transform="translate(1067 1162) scale(1.05 1)" text-anchor="middle" font-size="19">100</text>
<line x1="1129.7" y1="1132" x2="1129.7" y2="1136.7" stroke="#000" stroke-width="3.6"/>
<line x1="1193" y1="1132" x2="1193" y2="1141.4" stroke="#000" stroke-width="3.6"/>
<text transform="translate(1193.5 1162) scale(1.05 1)" text-anchor="middle" font-size="19">200</text>
<line x1="1256.2" y1="1132" x2="1256.2" y2="1136.7" stroke="#000" stroke-width="3.6"/>
<line x1="1319.5" y1="1132" x2="1319.5" y2="1141.4" stroke="#000" stroke-width="3.6"/>
<text transform="translate(1320 1162) scale(1.05 1)" text-anchor="middle" font-size="19">300</text>
<line x1="1382.8" y1="1132" x2="1382.8" y2="1136.7" stroke="#000" stroke-width="3.6"/>
<line x1="1446" y1="1132" x2="1446" y2="1141.4" stroke="#000" stroke-width="3.6"/>
<text transform="translate(1446.5 1162) scale(1.05 1)" text-anchor="middle" font-size="19">400</text>
<line x1="1509.3" y1="1132" x2="1509.3" y2="1136.7" stroke="#000" stroke-width="3.6"/>
<line x1="1572.5" y1="1132" x2="1572.5" y2="1141.4" stroke="#000" stroke-width="3.6"/>
<text transform="translate(1573 1162) scale(1.05 1)" text-anchor="middle" font-size="19">500</text>
<line x1="1635.8" y1="1132" x2="1635.8" y2="1136.7" stroke="#000" stroke-width="3.6"/>
<text x="1281.5" y="1200.2" text-anchor="middle" font-size="24" font-weight="bold">Dataset</text>
<text transform="translate(866.5 871) rotate(-90)" text-anchor="middle" font-size="25" font-weight="bold">D<tspan font-size="15.5" dy="6.5">nssm</tspan><tspan dy="-6.5"> (x10</tspan><tspan font-size="17" dy="-10">-12</tspan><tspan dy="10"> m</tspan><tspan font-size="17" dy="-10">2</tspan><tspan dy="10">/s)</tspan></text>
<rect x="940.4" y="621.5" width="335.4" height="100.5" fill="#fff" stroke="#9a33ff" stroke-width="3.6"/>
<line x1="949.3" y1="642.9" x2="1003" y2="642.9" stroke="#06f406" stroke-width="2.6"/>
<text x="1010" y="651.4" font-size="24">Experimental Dnssm</text>
<line x1="949.3" y1="672.9" x2="1003" y2="672.9" stroke="#ee3a3a" stroke-width="2.6"/>
<text x="1010" y="681.4" font-size="24">SVR-FFA prdicted Dnssm</text>
<line x1="949.3" y1="702.5" x2="1003" y2="702.5" stroke="#0d5fe0" stroke-width="2.6"/>
<text x="1010" y="711" font-size="24">Relative error</text>
<rect x="1180.1" y="806.7" width="167.6" height="32.1" fill="#b6e3fa" stroke="#000" stroke-width="2.6"/>
<text x="1263.9" y="830.6" text-anchor="middle" font-size="24">Training Dataset</text>
<rect x="1468.6" y="641.9" width="33.3" height="186.3" fill="#b6e3fa" stroke="#000" stroke-width="2.6"/>
<text transform="translate(1493.4 735.6) rotate(-90)" text-anchor="middle" font-size="24.5">Validation Dataset</text>
<rect x="1570.3" y="654.3" width="33.2" height="156.4" fill="#b6e3fa" stroke="#000" stroke-width="2.6"/>
<text transform="translate(1595 733.1) rotate(-90)" text-anchor="middle" font-size="24.5">Testing Dataset</text>
</svg>
</body></html>
